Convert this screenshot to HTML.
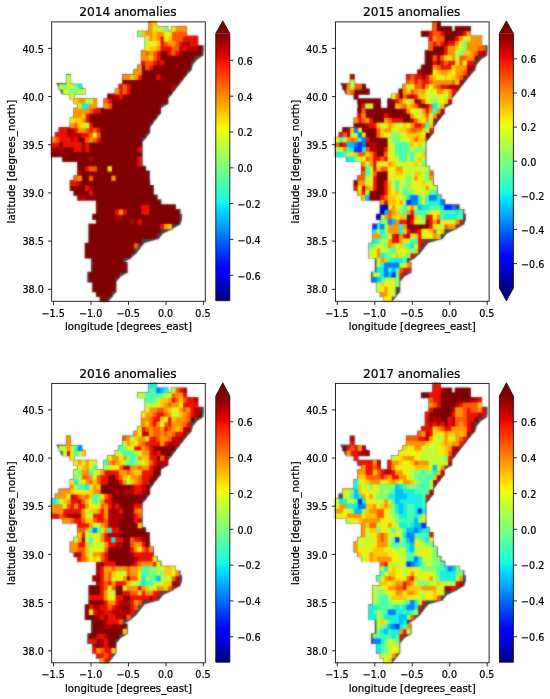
<!DOCTYPE html>
<html><head><meta charset="utf-8"><title>anomalies</title>
<style>
html,body{margin:0;padding:0;background:#fff}
svg{display:block}
text{font-family:"DejaVu Sans","Liberation Sans",sans-serif;fill:#000;stroke:#000;stroke-width:0.22px}
.t{font-size:12.2px}
.l{font-size:9.6px}
.a{font-size:10.2px}
</style></head>
<body>
<svg width="550" height="699" viewBox="0 0 550 699">
<defs>
<linearGradient id="jet" x1="0" y1="1" x2="0" y2="0">
<stop offset="0.000" stop-color="#000080"/><stop offset="0.110" stop-color="#0000ff"/><stop offset="0.125" stop-color="#0000ff"/><stop offset="0.340" stop-color="#00dbff"/><stop offset="0.350" stop-color="#00e5f7"/><stop offset="0.375" stop-color="#15ffe2"/><stop offset="0.640" stop-color="#efff08"/><stop offset="0.650" stop-color="#f7f600"/><stop offset="0.660" stop-color="#ffec00"/><stop offset="0.890" stop-color="#ff1300"/><stop offset="0.910" stop-color="#e80000"/><stop offset="1.000" stop-color="#800000"/>
</linearGradient>
<filter id="soft" x="-5%" y="-5%" width="110%" height="110%" color-interpolation-filters="sRGB"><feGaussianBlur in="SourceGraphic" stdDeviation="0.8" result="b"/><feComposite in="b" in2="SourceGraphic" operator="arithmetic" k1="0" k2="0.6" k3="0.4" k4="0"/></filter>
</defs>
<rect width="550" height="699" fill="#fff"/>
<g>
<g filter="url(#soft)">
<path fill="#41434b" d="M148.34,21.13h8.81v6.07h-8.81zM148.34,25.95h20.05v6.07h-20.05zM170.82,25.95h16.30v6.07h-16.30zM137.09,30.76h50.03v6.07h-50.03zM144.59,35.58h53.78v6.07h-53.78zM144.59,40.40h53.78v6.07h-53.78zM144.59,45.22h59.21v6.07h-59.21zM203.43,50.80L203.80,50.80L203.43,55.14zM140.84,50.03h62.58v6.07h-62.58zM196.49,55.62L203.43,55.62L196.49,59.96zM140.84,54.85h55.65v6.07h-55.65zM192.75,60.44L196.49,60.44L192.75,64.77zM140.84,59.67h51.90v6.07h-51.90zM191.62,65.26L192.75,65.26L191.62,69.59zM137.09,64.48h54.53v6.07h-54.53zM187.12,70.07L191.62,70.07L187.12,74.41zM133.35,69.30h53.78v6.07h-53.78zM183.38,74.89L187.12,74.89L183.38,79.23zM65.89,74.12h5.06v6.07h-5.06zM122.10,74.12h61.27v6.07h-61.27zM179.63,79.71L183.38,79.71L179.63,84.04zM65.89,78.94h5.06v6.07h-5.06zM122.10,78.94h57.53v6.07h-57.53zM175.88,84.52L179.63,84.52L175.88,88.86zM58.40,83.75h23.80v6.07h-23.80zM118.36,83.75h57.53v6.07h-57.53zM172.13,89.34L175.88,89.34L172.13,93.68zM62.14,88.57h23.80v6.07h-23.80zM114.61,88.57h57.53v6.07h-57.53zM168.39,94.16L172.13,94.16L168.39,98.49zM69.64,93.39h5.06v6.07h-5.06zM107.11,93.39h61.27v6.07h-61.27zM73.39,98.21h23.80v6.07h-23.80zM103.37,98.21h65.02v6.07h-65.02zM160.89,103.79L168.39,103.79L160.89,108.13zM77.13,103.02h20.05v6.07h-20.05zM103.37,103.02h57.53v6.07h-57.53zM73.39,107.84h87.51v6.07h-87.51zM157.14,113.43L160.89,113.43L157.14,117.76zM73.39,112.66h83.76v6.07h-83.76zM153.40,118.24L157.14,118.24L153.40,122.58zM69.64,117.47h83.76v6.07h-83.76zM150.21,123.06L153.40,123.06L150.21,127.40zM69.64,122.29h80.57v6.07h-80.57zM58.40,127.11h91.82v6.07h-91.82zM146.46,132.70L150.21,132.70L146.46,137.03zM54.65,131.93h91.82v6.07h-91.82zM142.72,137.51L146.46,137.51L142.72,141.85zM50.90,136.74h91.82v6.07h-91.82zM50.90,141.56h91.82v6.07h-91.82zM50.90,146.38h91.82v6.07h-91.82zM50.90,151.19h91.82v6.07h-91.82zM62.14,156.01h80.57v6.07h-80.57zM77.13,160.83h65.58v6.07h-65.58zM77.13,165.65h68.96v6.07h-68.96zM77.13,170.46h72.70v6.07h-72.70zM73.39,175.28h76.45v6.07h-76.45zM69.64,180.10h80.57v6.07h-80.57zM69.64,184.92h84.32v6.07h-84.32zM73.39,189.73h80.57v6.07h-80.57zM77.13,194.55h80.57v6.07h-80.57zM95.87,199.37h65.58v6.07h-65.58zM95.87,204.18h80.01v6.07h-80.01zM95.87,209.00h84.69v6.07h-84.69zM92.12,213.82h89.94v6.07h-89.94zM180.57,219.41L182.07,219.41L180.57,223.74zM95.87,218.64h84.69v6.07h-84.69zM173.07,224.22L180.57,224.22L173.07,228.56zM88.38,223.45h84.69v6.07h-84.69zM162.95,229.04L173.07,229.04L162.95,233.38zM88.38,228.27h74.58v6.07h-74.58zM159.20,233.86L162.95,233.86L159.20,238.19zM88.38,233.09h70.83v6.07h-70.83zM144.21,238.68L159.20,238.68L144.21,243.01zM88.38,237.91h55.84v6.07h-55.84zM140.47,243.49L144.21,243.49L140.47,247.83zM84.63,242.72h55.84v6.07h-55.84zM136.72,248.31L140.47,248.31L136.72,252.65zM84.63,247.54h52.09v6.07h-52.09zM131.47,253.13L136.72,253.13L131.47,257.46zM84.63,252.36h46.84v6.07h-46.84zM123.98,257.94L131.47,257.94L123.98,262.28zM91.00,257.17h32.98v6.07h-32.98zM91.00,261.99h36.73v6.07h-36.73zM91.00,266.81h36.73v6.07h-36.73zM120.23,272.40L127.73,272.40L120.23,276.73zM87.25,271.63h32.98v6.07h-32.98zM116.48,277.21L120.23,277.21L116.48,281.55zM87.25,276.44h29.23v6.07h-29.23zM92.12,281.26h24.36v6.07h-24.36zM92.12,286.08h24.36v6.07h-24.36zM112.74,291.67L116.48,291.67L112.74,296.00zM95.87,290.89h16.86v6.07h-16.86zM108.99,296.48L112.74,296.48L108.99,300.82zM99.62,295.71h9.37v6.07h-9.37zM56.15,83.08L66.64,83.32L71.14,83.56L80.13,84.28L84.63,90.30L79.76,93.92L73.95,94.88L73.76,99.22L70.01,99.22L70.01,94.88L61.39,93.92L59.89,89.34z"/>
<path fill="#800000" d="M197.55,45.74h4.25v5.32h-4.25zM160.08,50.55h8.00v5.32h-8.00zM182.56,50.55h19.24v5.32h-19.24zM160.08,55.37h34.23v5.32h-34.23zM163.83,60.19h26.73v5.32h-26.73zM141.34,65.01h4.25v5.32h-4.25zM152.58,65.01h37.98v5.32h-37.98zM141.34,69.82h45.47v5.32h-45.47zM141.34,74.64h15.49v5.32h-15.49zM160.08,74.64h22.99v5.32h-22.99zM122.60,79.46h56.71v5.32h-56.71zM130.10,84.27h41.72v5.32h-41.72zM130.10,89.09h41.72v5.32h-41.72zM107.61,93.91h4.25v5.32h-4.25zM122.60,93.91h45.47v5.32h-45.47zM111.36,98.73h56.71v5.32h-56.71zM111.36,103.54h49.22v5.32h-49.22zM100.12,108.36h60.46v5.32h-60.46zM88.88,113.18h67.96v5.32h-67.96zM88.88,117.99h64.21v5.32h-64.21zM92.62,122.81h56.71v5.32h-56.71zM100.12,127.63h49.22v5.32h-49.22zM100.12,132.45h45.47v5.32h-45.47zM77.63,137.26h8.00v5.32h-8.00zM100.12,137.26h41.72v5.32h-41.72zM58.90,142.08h4.25v5.32h-4.25zM81.38,142.08h4.25v5.32h-4.25zM88.88,142.08h52.97v5.32h-52.97zM55.15,146.90h4.25v5.32h-4.25zM62.64,146.90h11.74v5.32h-11.74zM81.38,146.90h4.25v5.32h-4.25zM88.88,146.90h49.22v5.32h-49.22zM51.40,151.72h90.44v5.32h-90.44zM62.64,156.53h26.73v5.32h-26.73zM92.62,156.53h45.47v5.32h-45.47zM77.63,161.35h60.46v5.32h-60.46zM77.63,166.17h8.00v5.32h-8.00zM96.37,166.17h11.74v5.32h-11.74zM111.36,166.17h34.23v5.32h-34.23zM81.38,170.98h67.96v5.32h-67.96zM81.38,175.80h8.00v5.32h-8.00zM92.62,175.80h19.24v5.32h-19.24zM115.11,175.80h34.23v5.32h-34.23zM81.38,180.62h67.96v5.32h-67.96zM70.14,185.44h15.49v5.32h-15.49zM92.62,185.44h60.46v5.32h-60.46zM73.89,190.25h15.49v5.32h-15.49zM92.62,190.25h60.46v5.32h-60.46zM85.13,195.07h71.70v5.32h-71.70zM96.37,199.89h64.21v5.32h-64.21zM96.37,204.71h45.47v5.32h-45.47zM148.84,204.71h26.73v5.32h-26.73zM96.37,209.52h19.24v5.32h-19.24zM126.35,209.52h15.49v5.32h-15.49zM148.84,209.52h30.48v5.32h-30.48zM92.62,214.34h22.99v5.32h-22.99zM122.60,214.34h56.71v5.32h-56.71zM96.37,219.16h34.23v5.32h-34.23zM133.85,219.16h4.25v5.32h-4.25zM141.34,219.16h37.98v5.32h-37.98zM88.88,223.97h71.70v5.32h-71.70zM88.88,228.79h71.70v5.32h-71.70zM88.88,233.61h67.96v5.32h-67.96zM88.88,238.43h52.97v5.32h-52.97zM85.13,243.24h49.22v5.32h-49.22zM85.13,248.06h49.22v5.32h-49.22zM85.13,252.88h45.47v5.32h-45.47zM92.62,257.69h30.48v5.32h-30.48zM92.62,262.51h34.23v5.32h-34.23zM92.62,267.33h34.23v5.32h-34.23zM88.88,272.15h30.48v5.32h-30.48zM88.88,276.96h26.73v5.32h-26.73zM92.62,281.78h22.99v5.32h-22.99zM92.62,286.60h22.99v5.32h-22.99zM96.37,291.42h15.49v5.32h-15.49zM100.12,296.23h8.00v5.32h-8.00z"/>
<path fill="#b40000" d="M182.56,40.92h8.00v5.32h-8.00zM178.82,45.74h4.25v5.32h-4.25zM186.31,45.74h11.74v5.32h-11.74zM178.82,50.55h4.25v5.32h-4.25zM156.33,60.19h4.25v5.32h-4.25zM171.32,84.27h4.25v5.32h-4.25zM111.36,93.91h8.00v5.32h-8.00zM66.39,127.63h8.00v5.32h-8.00zM66.39,132.45h15.49v5.32h-15.49zM70.14,137.26h4.25v5.32h-4.25zM51.40,146.90h4.25v5.32h-4.25zM58.90,146.90h4.25v5.32h-4.25zM88.88,156.53h4.25v5.32h-4.25zM77.63,170.98h4.25v5.32h-4.25zM77.63,180.62h4.25v5.32h-4.25zM88.88,185.44h4.25v5.32h-4.25zM77.63,195.07h8.00v5.32h-8.00zM115.11,214.34h8.00v5.32h-8.00zM130.10,219.16h4.25v5.32h-4.25z"/>
<path fill="#ec1000" d="M160.08,36.10h4.25v5.32h-4.25zM182.56,36.10h15.49v5.32h-15.49zM160.08,40.92h4.25v5.32h-4.25zM178.82,40.92h4.25v5.32h-4.25zM190.06,40.92h8.00v5.32h-8.00zM160.08,45.74h11.74v5.32h-11.74zM182.56,45.74h4.25v5.32h-4.25zM156.33,50.55h4.25v5.32h-4.25zM167.57,50.55h4.25v5.32h-4.25zM175.07,50.55h4.25v5.32h-4.25zM156.33,55.37h4.25v5.32h-4.25zM141.34,60.19h4.25v5.32h-4.25zM152.58,60.19h4.25v5.32h-4.25zM160.08,60.19h4.25v5.32h-4.25zM148.84,65.01h4.25v5.32h-4.25zM137.59,74.64h4.25v5.32h-4.25zM156.33,74.64h4.25v5.32h-4.25zM118.86,84.27h4.25v5.32h-4.25zM126.35,84.27h4.25v5.32h-4.25zM118.86,89.09h4.25v5.32h-4.25zM126.35,89.09h4.25v5.32h-4.25zM118.86,93.91h4.25v5.32h-4.25zM107.61,98.73h4.25v5.32h-4.25zM92.62,108.36h8.00v5.32h-8.00zM85.13,113.18h4.25v5.32h-4.25zM85.13,117.99h4.25v5.32h-4.25zM88.88,122.81h4.25v5.32h-4.25zM58.90,127.63h8.00v5.32h-8.00zM73.89,127.63h4.25v5.32h-4.25zM88.88,127.63h4.25v5.32h-4.25zM96.37,127.63h4.25v5.32h-4.25zM55.15,132.45h11.74v5.32h-11.74zM81.38,132.45h8.00v5.32h-8.00zM58.90,137.26h11.74v5.32h-11.74zM73.89,137.26h4.25v5.32h-4.25zM96.37,137.26h4.25v5.32h-4.25zM51.40,142.08h8.00v5.32h-8.00zM62.64,142.08h19.24v5.32h-19.24zM85.13,142.08h4.25v5.32h-4.25zM73.89,146.90h8.00v5.32h-8.00zM85.13,146.90h4.25v5.32h-4.25zM137.59,146.90h4.25v5.32h-4.25zM137.59,156.53h4.25v5.32h-4.25zM137.59,161.35h4.25v5.32h-4.25zM85.13,166.17h4.25v5.32h-4.25zM70.14,180.62h8.00v5.32h-8.00zM85.13,185.44h4.25v5.32h-4.25zM88.88,190.25h4.25v5.32h-4.25zM141.34,204.71h8.00v5.32h-8.00zM115.11,209.52h4.25v5.32h-4.25zM122.60,209.52h4.25v5.32h-4.25zM141.34,209.52h8.00v5.32h-8.00zM137.59,219.16h4.25v5.32h-4.25zM160.08,223.97h4.25v5.32h-4.25z"/>
<path fill="#ff5900" d="M171.32,31.28h15.49v5.32h-15.49zM171.32,36.10h11.74v5.32h-11.74zM163.83,40.92h4.25v5.32h-4.25zM175.07,40.92h4.25v5.32h-4.25zM171.32,45.74h8.00v5.32h-8.00zM145.09,50.55h4.25v5.32h-4.25zM152.58,50.55h4.25v5.32h-4.25zM171.32,50.55h4.25v5.32h-4.25zM152.58,55.37h4.25v5.32h-4.25zM145.09,60.19h8.00v5.32h-8.00zM145.09,65.01h4.25v5.32h-4.25zM122.60,84.27h4.25v5.32h-4.25zM122.60,89.09h4.25v5.32h-4.25zM103.87,98.73h4.25v5.32h-4.25zM107.61,103.54h4.25v5.32h-4.25zM88.88,108.36h4.25v5.32h-4.25zM73.89,122.81h4.25v5.32h-4.25zM85.13,127.63h4.25v5.32h-4.25zM92.62,127.63h4.25v5.32h-4.25zM88.88,132.45h4.25v5.32h-4.25zM96.37,132.45h4.25v5.32h-4.25zM55.15,137.26h4.25v5.32h-4.25zM85.13,137.26h4.25v5.32h-4.25zM92.62,137.26h4.25v5.32h-4.25zM88.88,166.17h8.00v5.32h-8.00zM73.89,175.80h4.25v5.32h-4.25zM88.88,175.80h4.25v5.32h-4.25zM133.85,243.24h4.25v5.32h-4.25z"/>
<path fill="#ff9400" d="M148.84,21.65h4.25v5.32h-4.25zM148.84,26.47h4.25v5.32h-4.25zM175.07,26.47h11.74v5.32h-11.74zM145.09,31.28h8.00v5.32h-8.00zM156.33,31.28h8.00v5.32h-8.00zM148.84,36.10h4.25v5.32h-4.25zM156.33,36.10h4.25v5.32h-4.25zM167.57,40.92h8.00v5.32h-8.00zM156.33,45.74h4.25v5.32h-4.25zM141.34,50.55h4.25v5.32h-4.25zM148.84,50.55h4.25v5.32h-4.25zM141.34,55.37h8.00v5.32h-8.00zM137.59,65.01h4.25v5.32h-4.25zM133.85,69.82h8.00v5.32h-8.00zM122.60,74.64h8.00v5.32h-8.00zM133.85,74.64h4.25v5.32h-4.25zM115.11,89.09h4.25v5.32h-4.25zM77.63,98.73h8.00v5.32h-8.00zM92.62,98.73h4.25v5.32h-4.25zM88.88,103.54h8.00v5.32h-8.00zM103.87,103.54h4.25v5.32h-4.25zM73.89,108.36h15.49v5.32h-15.49zM73.89,113.18h8.00v5.32h-8.00zM81.38,117.99h4.25v5.32h-4.25zM70.14,122.81h4.25v5.32h-4.25zM77.63,127.63h8.00v5.32h-8.00zM51.40,137.26h4.25v5.32h-4.25zM88.88,137.26h4.25v5.32h-4.25zM77.63,175.80h4.25v5.32h-4.25zM111.36,175.80h4.25v5.32h-4.25zM118.86,209.52h4.25v5.32h-4.25zM163.83,223.97h4.25v5.32h-4.25z"/>
<path fill="#ffc800" d="M152.58,21.65h4.25v5.32h-4.25zM141.34,31.28h4.25v5.32h-4.25zM152.58,31.28h4.25v5.32h-4.25zM152.58,36.10h4.25v5.32h-4.25zM167.57,36.10h4.25v5.32h-4.25zM156.33,40.92h4.25v5.32h-4.25zM148.84,45.74h8.00v5.32h-8.00zM148.84,55.37h4.25v5.32h-4.25zM130.10,74.64h4.25v5.32h-4.25zM73.89,98.73h4.25v5.32h-4.25zM81.38,113.18h4.25v5.32h-4.25zM73.89,117.99h8.00v5.32h-8.00zM77.63,122.81h4.25v5.32h-4.25zM167.57,223.97h4.25v5.32h-4.25z"/>
<path fill="#f0f010" d="M152.58,26.47h4.25v5.32h-4.25zM160.08,26.47h4.25v5.32h-4.25zM171.32,26.47h4.25v5.32h-4.25zM163.83,31.28h8.00v5.32h-8.00zM163.83,36.10h4.25v5.32h-4.25zM148.84,40.92h8.00v5.32h-8.00zM145.09,45.74h4.25v5.32h-4.25zM70.14,93.91h4.25v5.32h-4.25zM77.63,103.54h4.25v5.32h-4.25zM70.14,117.99h4.25v5.32h-4.25zM81.38,122.81h4.25v5.32h-4.25zM92.62,132.45h4.25v5.32h-4.25zM107.61,166.17h4.25v5.32h-4.25z"/>
<path fill="#c0ff38" d="M156.33,26.47h4.25v5.32h-4.25zM145.09,36.10h4.25v5.32h-4.25zM145.09,40.92h4.25v5.32h-4.25zM66.39,74.64h4.25v5.32h-4.25zM66.39,79.46h4.25v5.32h-4.25zM58.90,84.27h4.25v5.32h-4.25zM66.39,84.27h8.00v5.32h-8.00zM62.64,89.09h8.00v5.32h-8.00zM77.63,89.09h8.00v5.32h-8.00zM85.13,98.73h8.00v5.32h-8.00zM85.13,122.81h4.25v5.32h-4.25z"/>
<path fill="#80ff78" d="M163.83,26.47h4.25v5.32h-4.25zM137.59,31.28h4.25v5.32h-4.25zM62.64,84.27h4.25v5.32h-4.25zM73.89,84.27h4.25v5.32h-4.25zM70.14,89.09h8.00v5.32h-8.00z"/>
<path fill="#18f0e0" d="M77.63,84.27h4.25v5.32h-4.25zM81.38,103.54h8.00v5.32h-8.00z"/>
</g>
<rect x="51.65" y="21.9" width="153.65" height="279.4" fill="none" stroke="#111" stroke-width="0.9"/>
<line x1="53.5" y1="301.29999999999995" x2="53.5" y2="304.9" stroke="#111" stroke-width="0.9"/><text class="l" x="53.1" y="316.5" text-anchor="middle">−1.5</text>
<line x1="91.0" y1="301.29999999999995" x2="91.0" y2="304.9" stroke="#111" stroke-width="0.9"/><text class="l" x="90.6" y="316.5" text-anchor="middle">−1.0</text>
<line x1="128.5" y1="301.29999999999995" x2="128.5" y2="304.9" stroke="#111" stroke-width="0.9"/><text class="l" x="128.1" y="316.5" text-anchor="middle">−0.5</text>
<line x1="166.0" y1="301.29999999999995" x2="166.0" y2="304.9" stroke="#111" stroke-width="0.9"/><text class="l" x="165.6" y="316.5" text-anchor="middle">0.0</text>
<line x1="203.4" y1="301.29999999999995" x2="203.4" y2="304.9" stroke="#111" stroke-width="0.9"/><text class="l" x="203.0" y="316.5" text-anchor="middle">0.5</text>
<line x1="48.05" y1="289.3" x2="51.65" y2="289.3" stroke="#111" stroke-width="0.9"/><text class="l" x="43.9" y="293.4" text-anchor="end">38.0</text>
<line x1="48.05" y1="241.1" x2="51.65" y2="241.1" stroke="#111" stroke-width="0.9"/><text class="l" x="43.9" y="245.2" text-anchor="end">38.5</text>
<line x1="48.05" y1="192.9" x2="51.65" y2="192.9" stroke="#111" stroke-width="0.9"/><text class="l" x="43.9" y="197.0" text-anchor="end">39.0</text>
<line x1="48.05" y1="144.7" x2="51.65" y2="144.7" stroke="#111" stroke-width="0.9"/><text class="l" x="43.9" y="148.8" text-anchor="end">39.5</text>
<line x1="48.05" y1="96.6" x2="51.65" y2="96.6" stroke="#111" stroke-width="0.9"/><text class="l" x="43.9" y="100.7" text-anchor="end">40.0</text>
<line x1="48.05" y1="48.4" x2="51.65" y2="48.4" stroke="#111" stroke-width="0.9"/><text class="l" x="43.9" y="52.5" text-anchor="end">40.5</text>
<text class="t" x="127.9" y="16.0" text-anchor="middle">2014 anomalies</text>
<text class="a" x="128.5" y="330.3" text-anchor="middle">longitude [degrees_east]</text>
<text class="a" transform="translate(15.0,161.6) rotate(-90)" text-anchor="middle">latitude [degrees_north]</text>
<rect x="215.8" y="33.4" width="14.0" height="267.3" fill="url(#jet)"/><path d="M215.8,33.6 L222.8,20.9 L229.8,33.6 Z" fill="#800000"/><path d="M215.8,33.4 L222.8,20.9 L229.8,33.4 L229.8,300.7 L215.8,300.7 Z" fill="none" stroke="#111" stroke-width="0.9" stroke-linejoin="miter"/>
<line x1="229.8" y1="60.3" x2="233.4" y2="60.3" stroke="#111" stroke-width="0.9"/><text class="l" x="237.4" y="64.6">0.6</text>
<line x1="229.8" y1="96.2" x2="233.4" y2="96.2" stroke="#111" stroke-width="0.9"/><text class="l" x="237.4" y="100.5">0.4</text>
<line x1="229.8" y1="132.0" x2="233.4" y2="132.0" stroke="#111" stroke-width="0.9"/><text class="l" x="237.4" y="136.3">0.2</text>
<line x1="229.8" y1="167.8" x2="233.4" y2="167.8" stroke="#111" stroke-width="0.9"/><text class="l" x="237.4" y="172.1">0.0</text>
<line x1="229.8" y1="203.6" x2="233.4" y2="203.6" stroke="#111" stroke-width="0.9"/><text class="l" x="237.4" y="207.9">−0.2</text>
<line x1="229.8" y1="239.4" x2="233.4" y2="239.4" stroke="#111" stroke-width="0.9"/><text class="l" x="237.4" y="243.7">−0.4</text>
<line x1="229.8" y1="275.3" x2="233.4" y2="275.3" stroke="#111" stroke-width="0.9"/><text class="l" x="237.4" y="279.6">−0.6</text>
</g>
<g>
<g filter="url(#soft)">
<path fill="#41434b" d="M432.14,21.13h8.81v6.07h-8.81zM432.14,25.95h20.05v6.07h-20.05zM454.62,25.95h16.30v6.07h-16.30zM420.89,30.76h50.03v6.07h-50.03zM428.39,35.58h53.78v6.07h-53.78zM428.39,40.40h53.78v6.07h-53.78zM428.39,45.22h59.21v6.07h-59.21zM487.23,50.80L487.60,50.80L487.23,55.14zM424.64,50.03h62.58v6.07h-62.58zM480.29,55.62L487.23,55.62L480.29,59.96zM424.64,54.85h55.65v6.07h-55.65zM476.55,60.44L480.29,60.44L476.55,64.77zM424.64,59.67h51.90v6.07h-51.90zM475.42,65.26L476.55,65.26L475.42,69.59zM420.89,64.48h54.53v6.07h-54.53zM470.92,70.07L475.42,70.07L470.92,74.41zM417.15,69.30h53.78v6.07h-53.78zM467.18,74.89L470.92,74.89L467.18,79.23zM349.69,74.12h5.06v6.07h-5.06zM405.90,74.12h61.27v6.07h-61.27zM463.43,79.71L467.18,79.71L463.43,84.04zM349.69,78.94h5.06v6.07h-5.06zM405.90,78.94h57.53v6.07h-57.53zM459.68,84.52L463.43,84.52L459.68,88.86zM342.20,83.75h23.80v6.07h-23.80zM402.16,83.75h57.53v6.07h-57.53zM455.93,89.34L459.68,89.34L455.93,93.68zM345.94,88.57h23.80v6.07h-23.80zM398.41,88.57h57.53v6.07h-57.53zM452.19,94.16L455.93,94.16L452.19,98.49zM353.44,93.39h5.06v6.07h-5.06zM390.91,93.39h61.27v6.07h-61.27zM357.19,98.21h23.80v6.07h-23.80zM387.17,98.21h65.02v6.07h-65.02zM444.69,103.79L452.19,103.79L444.69,108.13zM360.93,103.02h20.05v6.07h-20.05zM387.17,103.02h57.53v6.07h-57.53zM357.19,107.84h87.51v6.07h-87.51zM440.94,113.43L444.69,113.43L440.94,117.76zM357.19,112.66h83.76v6.07h-83.76zM437.20,118.24L440.94,118.24L437.20,122.58zM353.44,117.47h83.76v6.07h-83.76zM434.01,123.06L437.20,123.06L434.01,127.40zM353.44,122.29h80.57v6.07h-80.57zM342.20,127.11h91.82v6.07h-91.82zM430.26,132.70L434.01,132.70L430.26,137.03zM338.45,131.93h91.82v6.07h-91.82zM426.52,137.51L430.26,137.51L426.52,141.85zM334.70,136.74h91.82v6.07h-91.82zM334.70,141.56h91.82v6.07h-91.82zM334.70,146.38h91.82v6.07h-91.82zM334.70,151.19h91.82v6.07h-91.82zM345.94,156.01h80.57v6.07h-80.57zM360.93,160.83h65.58v6.07h-65.58zM360.93,165.65h68.96v6.07h-68.96zM360.93,170.46h72.70v6.07h-72.70zM357.19,175.28h76.45v6.07h-76.45zM353.44,180.10h80.57v6.07h-80.57zM353.44,184.92h84.32v6.07h-84.32zM357.19,189.73h80.57v6.07h-80.57zM360.93,194.55h80.57v6.07h-80.57zM379.67,199.37h65.58v6.07h-65.58zM379.67,204.18h80.01v6.07h-80.01zM379.67,209.00h84.69v6.07h-84.69zM375.92,213.82h89.94v6.07h-89.94zM464.37,219.41L465.87,219.41L464.37,223.74zM379.67,218.64h84.69v6.07h-84.69zM456.87,224.22L464.37,224.22L456.87,228.56zM372.18,223.45h84.69v6.07h-84.69zM446.75,229.04L456.87,229.04L446.75,233.38zM372.18,228.27h74.58v6.07h-74.58zM443.00,233.86L446.75,233.86L443.00,238.19zM372.18,233.09h70.83v6.07h-70.83zM428.01,238.68L443.00,238.68L428.01,243.01zM372.18,237.91h55.84v6.07h-55.84zM424.27,243.49L428.01,243.49L424.27,247.83zM368.43,242.72h55.84v6.07h-55.84zM420.52,248.31L424.27,248.31L420.52,252.65zM368.43,247.54h52.09v6.07h-52.09zM415.27,253.13L420.52,253.13L415.27,257.46zM368.43,252.36h46.84v6.07h-46.84zM407.78,257.94L415.27,257.94L407.78,262.28zM374.80,257.17h32.98v6.07h-32.98zM374.80,261.99h36.73v6.07h-36.73zM374.80,266.81h36.73v6.07h-36.73zM404.03,272.40L411.53,272.40L404.03,276.73zM371.05,271.63h32.98v6.07h-32.98zM400.28,277.21L404.03,277.21L400.28,281.55zM371.05,276.44h29.23v6.07h-29.23zM375.92,281.26h24.36v6.07h-24.36zM375.92,286.08h24.36v6.07h-24.36zM396.54,291.67L400.28,291.67L396.54,296.00zM379.67,290.89h16.86v6.07h-16.86zM392.79,296.48L396.54,296.48L392.79,300.82zM383.42,295.71h9.37v6.07h-9.37zM339.95,83.08L350.44,83.32L354.94,83.56L363.93,84.28L368.43,90.30L363.56,93.92L357.75,94.88L357.56,99.22L353.81,99.22L353.81,94.88L345.19,93.92L343.69,89.34z"/>
<path fill="#800000" d="M436.38,21.65h4.25v5.32h-4.25zM436.38,26.47h15.49v5.32h-15.49zM455.12,26.47h15.49v5.32h-15.49zM421.39,31.28h8.00v5.32h-8.00zM443.88,31.28h19.24v5.32h-19.24zM443.88,36.10h11.74v5.32h-11.74zM443.88,40.92h4.25v5.32h-4.25zM432.64,45.74h11.74v5.32h-11.74zM425.14,50.55h19.24v5.32h-19.24zM425.14,55.37h8.00v5.32h-8.00zM425.14,60.19h8.00v5.32h-8.00zM436.38,60.19h4.25v5.32h-4.25zM421.39,65.01h11.74v5.32h-11.74zM421.39,69.82h11.74v5.32h-11.74zM421.39,74.64h4.25v5.32h-4.25zM342.70,84.27h4.25v5.32h-4.25zM361.43,84.27h4.25v5.32h-4.25zM353.94,89.09h15.49v5.32h-15.49zM398.91,89.09h4.25v5.32h-4.25zM353.94,93.91h4.25v5.32h-4.25zM398.91,93.91h4.25v5.32h-4.25zM357.69,98.73h22.99v5.32h-22.99zM387.67,98.73h8.00v5.32h-8.00zM413.90,98.73h4.25v5.32h-4.25zM357.69,103.54h4.25v5.32h-4.25zM372.68,103.54h8.00v5.32h-8.00zM387.67,103.54h8.00v5.32h-8.00zM421.39,103.54h4.25v5.32h-4.25zM357.69,108.36h4.25v5.32h-4.25zM365.18,108.36h37.98v5.32h-37.98zM365.18,113.18h19.24v5.32h-19.24zM387.67,113.18h22.99v5.32h-22.99zM372.68,117.99h11.74v5.32h-11.74zM402.66,117.99h8.00v5.32h-8.00zM353.94,122.81h11.74v5.32h-11.74zM342.70,127.63h4.25v5.32h-4.25zM361.43,127.63h15.49v5.32h-15.49zM365.18,132.45h11.74v5.32h-11.74zM425.14,132.45h4.25v5.32h-4.25zM368.93,137.26h19.24v5.32h-19.24zM365.18,142.08h4.25v5.32h-4.25zM376.42,142.08h11.74v5.32h-11.74zM376.42,146.90h8.00v5.32h-8.00zM376.42,151.72h8.00v5.32h-8.00zM376.42,170.98h11.74v5.32h-11.74zM376.42,175.80h11.74v5.32h-11.74zM353.94,180.62h4.25v5.32h-4.25zM376.42,180.62h8.00v5.32h-8.00zM376.42,185.44h8.00v5.32h-8.00zM368.93,190.25h15.49v5.32h-15.49zM368.93,195.07h11.74v5.32h-11.74zM406.40,214.34h4.25v5.32h-4.25zM406.40,219.16h4.25v5.32h-4.25zM425.14,219.16h4.25v5.32h-4.25zM406.40,223.97h22.99v5.32h-22.99zM410.15,228.79h4.25v5.32h-4.25z"/>
<path fill="#b40000" d="M477.61,50.55h8.00v5.32h-8.00zM436.38,55.37h4.25v5.32h-4.25zM473.86,55.37h4.25v5.32h-4.25zM466.36,65.01h8.00v5.32h-8.00zM417.65,69.82h4.25v5.32h-4.25zM466.36,69.82h4.25v5.32h-4.25zM350.19,74.64h4.25v5.32h-4.25zM462.62,74.64h4.25v5.32h-4.25zM458.87,79.46h4.25v5.32h-4.25zM447.63,84.27h11.74v5.32h-11.74zM406.40,93.91h8.00v5.32h-8.00zM417.65,98.73h4.25v5.32h-4.25zM447.63,98.73h4.25v5.32h-4.25zM417.65,103.54h4.25v5.32h-4.25zM425.14,103.54h4.25v5.32h-4.25zM402.66,108.36h4.25v5.32h-4.25zM440.13,108.36h4.25v5.32h-4.25zM436.38,113.18h4.25v5.32h-4.25zM410.15,117.99h4.25v5.32h-4.25zM432.64,117.99h4.25v5.32h-4.25zM365.18,122.81h4.25v5.32h-4.25zM346.44,127.63h4.25v5.32h-4.25zM346.44,132.45h4.25v5.32h-4.25zM338.95,142.08h4.25v5.32h-4.25zM368.93,142.08h8.00v5.32h-8.00zM368.93,146.90h8.00v5.32h-8.00zM361.43,185.44h4.25v5.32h-4.25zM383.92,199.89h4.25v5.32h-4.25zM410.15,214.34h4.25v5.32h-4.25zM413.90,228.79h4.25v5.32h-4.25zM395.16,233.61h4.25v5.32h-4.25zM406.40,233.61h4.25v5.32h-4.25z"/>
<path fill="#ec1000" d="M428.89,31.28h4.25v5.32h-4.25zM440.13,31.28h4.25v5.32h-4.25zM462.62,31.28h4.25v5.32h-4.25zM428.89,36.10h4.25v5.32h-4.25zM455.12,36.10h4.25v5.32h-4.25zM432.64,40.92h4.25v5.32h-4.25zM440.13,40.92h4.25v5.32h-4.25zM447.63,40.92h8.00v5.32h-8.00zM443.88,45.74h4.25v5.32h-4.25zM443.88,50.55h4.25v5.32h-4.25zM432.64,60.19h4.25v5.32h-4.25zM440.13,60.19h4.25v5.32h-4.25zM447.63,60.19h8.00v5.32h-8.00zM466.36,60.19h8.00v5.32h-8.00zM440.13,65.01h11.74v5.32h-11.74zM406.40,74.64h4.25v5.32h-4.25zM413.90,74.64h8.00v5.32h-8.00zM425.14,74.64h4.25v5.32h-4.25zM413.90,79.46h4.25v5.32h-4.25zM421.39,79.46h8.00v5.32h-8.00zM421.39,84.27h4.25v5.32h-4.25zM440.13,84.27h8.00v5.32h-8.00zM451.37,89.09h4.25v5.32h-4.25zM413.90,93.91h4.25v5.32h-4.25zM395.16,98.73h4.25v5.32h-4.25zM361.43,103.54h4.25v5.32h-4.25zM425.14,108.36h4.25v5.32h-4.25zM357.69,113.18h4.25v5.32h-4.25zM383.92,113.18h4.25v5.32h-4.25zM357.69,117.99h4.25v5.32h-4.25zM368.93,117.99h4.25v5.32h-4.25zM391.41,117.99h11.74v5.32h-11.74zM368.93,122.81h8.00v5.32h-8.00zM413.90,122.81h8.00v5.32h-8.00zM428.89,127.63h4.25v5.32h-4.25zM338.95,132.45h4.25v5.32h-4.25zM365.18,137.26h4.25v5.32h-4.25zM342.70,142.08h4.25v5.32h-4.25zM383.92,146.90h4.25v5.32h-4.25zM372.68,151.72h4.25v5.32h-4.25zM372.68,156.53h8.00v5.32h-8.00zM383.92,156.53h4.25v5.32h-4.25zM372.68,161.35h4.25v5.32h-4.25zM361.43,166.17h4.25v5.32h-4.25zM372.68,166.17h4.25v5.32h-4.25zM372.68,175.80h4.25v5.32h-4.25zM372.68,180.62h4.25v5.32h-4.25zM383.92,180.62h4.25v5.32h-4.25zM353.94,185.44h4.25v5.32h-4.25zM372.68,185.44h4.25v5.32h-4.25zM383.92,185.44h4.25v5.32h-4.25zM361.43,190.25h4.25v5.32h-4.25zM383.92,190.25h4.25v5.32h-4.25zM380.17,195.07h4.25v5.32h-4.25zM410.15,209.52h4.25v5.32h-4.25zM425.14,214.34h8.00v5.32h-8.00zM398.91,219.16h8.00v5.32h-8.00zM410.15,219.16h4.25v5.32h-4.25zM428.89,219.16h4.25v5.32h-4.25zM436.38,219.16h4.25v5.32h-4.25zM458.87,219.16h4.25v5.32h-4.25zM428.89,223.97h4.25v5.32h-4.25zM406.40,228.79h4.25v5.32h-4.25zM417.65,228.79h4.25v5.32h-4.25zM391.41,233.61h4.25v5.32h-4.25zM402.66,233.61h4.25v5.32h-4.25zM417.65,233.61h4.25v5.32h-4.25zM391.41,238.43h8.00v5.32h-8.00zM417.65,238.43h8.00v5.32h-8.00zM417.65,243.24h4.25v5.32h-4.25zM410.15,252.88h4.25v5.32h-4.25zM402.66,267.33h8.00v5.32h-8.00zM398.91,272.15h4.25v5.32h-4.25z"/>
<path fill="#ff5900" d="M432.64,21.65h4.25v5.32h-4.25zM432.64,26.47h4.25v5.32h-4.25zM432.64,31.28h8.00v5.32h-8.00zM436.38,36.10h8.00v5.32h-8.00zM428.89,40.92h4.25v5.32h-4.25zM436.38,40.92h4.25v5.32h-4.25zM428.89,45.74h4.25v5.32h-4.25zM477.61,45.74h8.00v5.32h-8.00zM473.86,50.55h4.25v5.32h-4.25zM432.64,55.37h4.25v5.32h-4.25zM440.13,55.37h4.25v5.32h-4.25zM458.87,55.37h8.00v5.32h-8.00zM443.88,60.19h4.25v5.32h-4.25zM458.87,60.19h4.25v5.32h-4.25zM436.38,65.01h4.25v5.32h-4.25zM462.62,69.82h4.25v5.32h-4.25zM410.15,74.64h4.25v5.32h-4.25zM458.87,74.64h4.25v5.32h-4.25zM406.40,79.46h4.25v5.32h-4.25zM417.65,79.46h4.25v5.32h-4.25zM428.89,79.46h4.25v5.32h-4.25zM451.37,79.46h4.25v5.32h-4.25zM353.94,84.27h8.00v5.32h-8.00zM413.90,84.27h8.00v5.32h-8.00zM436.38,84.27h4.25v5.32h-4.25zM350.19,89.09h4.25v5.32h-4.25zM410.15,89.09h4.25v5.32h-4.25zM395.16,93.91h4.25v5.32h-4.25zM402.66,93.91h4.25v5.32h-4.25zM398.91,98.73h4.25v5.32h-4.25zM421.39,98.73h4.25v5.32h-4.25zM402.66,103.54h4.25v5.32h-4.25zM413.90,103.54h4.25v5.32h-4.25zM428.89,103.54h4.25v5.32h-4.25zM361.43,108.36h4.25v5.32h-4.25zM425.14,113.18h4.25v5.32h-4.25zM361.43,117.99h4.25v5.32h-4.25zM387.67,117.99h4.25v5.32h-4.25zM413.90,117.99h4.25v5.32h-4.25zM421.39,122.81h4.25v5.32h-4.25zM376.42,127.63h4.25v5.32h-4.25zM410.15,127.63h8.00v5.32h-8.00zM342.70,132.45h4.25v5.32h-4.25zM376.42,132.45h4.25v5.32h-4.25zM350.19,137.26h4.25v5.32h-4.25zM413.90,137.26h4.25v5.32h-4.25zM335.20,142.08h4.25v5.32h-4.25zM365.18,146.90h4.25v5.32h-4.25zM357.69,151.72h8.00v5.32h-8.00zM383.92,151.72h4.25v5.32h-4.25zM365.18,156.53h4.25v5.32h-4.25zM380.17,156.53h4.25v5.32h-4.25zM380.17,166.17h8.00v5.32h-8.00zM361.43,170.98h4.25v5.32h-4.25zM372.68,170.98h4.25v5.32h-4.25zM428.89,170.98h4.25v5.32h-4.25zM357.69,175.80h8.00v5.32h-8.00zM383.92,195.07h4.25v5.32h-4.25zM387.67,209.52h4.25v5.32h-4.25zM387.67,214.34h4.25v5.32h-4.25zM443.88,223.97h4.25v5.32h-4.25zM432.64,228.79h4.25v5.32h-4.25zM398.91,267.33h4.25v5.32h-4.25z"/>
<path fill="#ff9400" d="M466.36,31.28h4.25v5.32h-4.25zM432.64,36.10h4.25v5.32h-4.25zM458.87,36.10h4.25v5.32h-4.25zM470.11,36.10h11.74v5.32h-11.74zM455.12,40.92h4.25v5.32h-4.25zM466.36,40.92h15.49v5.32h-15.49zM447.63,45.74h8.00v5.32h-8.00zM466.36,45.74h11.74v5.32h-11.74zM447.63,50.55h8.00v5.32h-8.00zM470.11,50.55h4.25v5.32h-4.25zM451.37,55.37h4.25v5.32h-4.25zM466.36,55.37h8.00v5.32h-8.00zM432.64,65.01h4.25v5.32h-4.25zM455.12,65.01h11.74v5.32h-11.74zM440.13,69.82h8.00v5.32h-8.00zM455.12,69.82h8.00v5.32h-8.00zM428.89,74.64h4.25v5.32h-4.25zM455.12,74.64h4.25v5.32h-4.25zM410.15,79.46h4.25v5.32h-4.25zM432.64,79.46h19.24v5.32h-19.24zM346.44,84.27h4.25v5.32h-4.25zM402.66,84.27h4.25v5.32h-4.25zM425.14,84.27h4.25v5.32h-4.25zM432.64,84.27h4.25v5.32h-4.25zM346.44,89.09h4.25v5.32h-4.25zM402.66,89.09h4.25v5.32h-4.25zM413.90,89.09h4.25v5.32h-4.25zM421.39,89.09h4.25v5.32h-4.25zM436.38,89.09h8.00v5.32h-8.00zM447.63,89.09h4.25v5.32h-4.25zM447.63,93.91h4.25v5.32h-4.25zM398.91,103.54h4.25v5.32h-4.25zM410.15,103.54h4.25v5.32h-4.25zM406.40,108.36h4.25v5.32h-4.25zM421.39,108.36h4.25v5.32h-4.25zM428.89,108.36h4.25v5.32h-4.25zM436.38,108.36h4.25v5.32h-4.25zM361.43,113.18h4.25v5.32h-4.25zM410.15,113.18h4.25v5.32h-4.25zM432.64,113.18h4.25v5.32h-4.25zM353.94,117.99h4.25v5.32h-4.25zM365.18,117.99h4.25v5.32h-4.25zM383.92,117.99h4.25v5.32h-4.25zM425.14,117.99h4.25v5.32h-4.25zM387.67,122.81h4.25v5.32h-4.25zM410.15,122.81h4.25v5.32h-4.25zM383.92,127.63h8.00v5.32h-8.00zM406.40,127.63h4.25v5.32h-4.25zM417.65,127.63h4.25v5.32h-4.25zM346.44,137.26h4.25v5.32h-4.25zM353.94,137.26h4.25v5.32h-4.25zM342.70,146.90h4.25v5.32h-4.25zM368.93,151.72h4.25v5.32h-4.25zM368.93,156.53h4.25v5.32h-4.25zM361.43,161.35h4.25v5.32h-4.25zM368.93,161.35h4.25v5.32h-4.25zM387.67,161.35h4.25v5.32h-4.25zM395.16,166.17h8.00v5.32h-8.00zM413.90,175.80h4.25v5.32h-4.25zM428.89,175.80h4.25v5.32h-4.25zM357.69,180.62h8.00v5.32h-8.00zM365.18,185.44h4.25v5.32h-4.25zM425.14,185.44h4.25v5.32h-4.25zM380.17,199.89h4.25v5.32h-4.25zM398.91,199.89h4.25v5.32h-4.25zM391.41,204.71h4.25v5.32h-4.25zM410.15,204.71h4.25v5.32h-4.25zM391.41,209.52h4.25v5.32h-4.25zM406.40,209.52h4.25v5.32h-4.25zM383.92,214.34h4.25v5.32h-4.25zM436.38,214.34h4.25v5.32h-4.25zM395.16,219.16h4.25v5.32h-4.25zM432.64,219.16h4.25v5.32h-4.25zM455.12,219.16h4.25v5.32h-4.25zM387.67,223.97h11.74v5.32h-11.74zM402.66,223.97h4.25v5.32h-4.25zM447.63,223.97h8.00v5.32h-8.00zM387.67,228.79h11.74v5.32h-11.74zM372.68,233.61h8.00v5.32h-8.00zM398.91,233.61h4.25v5.32h-4.25zM432.64,233.61h4.25v5.32h-4.25zM387.67,238.43h4.25v5.32h-4.25zM398.91,238.43h4.25v5.32h-4.25zM387.67,243.24h4.25v5.32h-4.25zM376.42,248.06h4.25v5.32h-4.25zM376.42,252.88h4.25v5.32h-4.25zM380.17,257.69h4.25v5.32h-4.25zM406.40,262.51h4.25v5.32h-4.25zM383.92,286.60h4.25v5.32h-4.25zM380.17,291.42h8.00v5.32h-8.00z"/>
<path fill="#ffc800" d="M455.12,45.74h4.25v5.32h-4.25zM462.62,50.55h8.00v5.32h-8.00zM443.88,55.37h4.25v5.32h-4.25zM451.37,65.01h4.25v5.32h-4.25zM436.38,69.82h4.25v5.32h-4.25zM447.63,69.82h4.25v5.32h-4.25zM432.64,74.64h4.25v5.32h-4.25zM443.88,74.64h4.25v5.32h-4.25zM451.37,74.64h4.25v5.32h-4.25zM455.12,79.46h4.25v5.32h-4.25zM406.40,89.09h4.25v5.32h-4.25zM417.65,89.09h4.25v5.32h-4.25zM417.65,93.91h8.00v5.32h-8.00zM410.15,98.73h4.25v5.32h-4.25zM443.88,98.73h4.25v5.32h-4.25zM395.16,103.54h4.25v5.32h-4.25zM406.40,103.54h4.25v5.32h-4.25zM440.13,103.54h4.25v5.32h-4.25zM421.39,113.18h4.25v5.32h-4.25zM417.65,117.99h4.25v5.32h-4.25zM376.42,122.81h4.25v5.32h-4.25zM391.41,122.81h4.25v5.32h-4.25zM402.66,122.81h4.25v5.32h-4.25zM428.89,122.81h4.25v5.32h-4.25zM350.19,127.63h4.25v5.32h-4.25zM380.17,127.63h4.25v5.32h-4.25zM398.91,127.63h8.00v5.32h-8.00zM421.39,127.63h4.25v5.32h-4.25zM380.17,132.45h4.25v5.32h-4.25zM406.40,132.45h15.49v5.32h-15.49zM410.15,137.26h4.25v5.32h-4.25zM417.65,137.26h8.00v5.32h-8.00zM410.15,142.08h4.25v5.32h-4.25zM417.65,142.08h4.25v5.32h-4.25zM353.94,151.72h4.25v5.32h-4.25zM365.18,151.72h4.25v5.32h-4.25zM421.39,151.72h4.25v5.32h-4.25zM417.65,156.53h4.25v5.32h-4.25zM391.41,161.35h4.25v5.32h-4.25zM413.90,161.35h4.25v5.32h-4.25zM376.42,166.17h4.25v5.32h-4.25zM395.16,170.98h8.00v5.32h-8.00zM413.90,170.98h8.00v5.32h-8.00zM387.67,180.62h4.25v5.32h-4.25zM421.39,180.62h4.25v5.32h-4.25zM368.93,185.44h4.25v5.32h-4.25zM387.67,185.44h4.25v5.32h-4.25zM357.69,190.25h4.25v5.32h-4.25zM387.67,190.25h4.25v5.32h-4.25zM395.16,190.25h4.25v5.32h-4.25zM361.43,195.07h4.25v5.32h-4.25zM387.67,195.07h8.00v5.32h-8.00zM387.67,199.89h8.00v5.32h-8.00zM395.16,209.52h4.25v5.32h-4.25zM391.41,214.34h4.25v5.32h-4.25zM398.91,214.34h8.00v5.32h-8.00zM413.90,214.34h4.25v5.32h-4.25zM402.66,228.79h4.25v5.32h-4.25zM428.89,228.79h4.25v5.32h-4.25zM440.13,228.79h4.25v5.32h-4.25zM413.90,233.61h4.25v5.32h-4.25zM436.38,233.61h4.25v5.32h-4.25zM391.41,243.24h4.25v5.32h-4.25zM398.91,243.24h4.25v5.32h-4.25zM413.90,248.06h4.25v5.32h-4.25zM395.16,252.88h4.25v5.32h-4.25zM383.92,257.69h4.25v5.32h-4.25zM380.17,281.78h4.25v5.32h-4.25z"/>
<path fill="#f0f010" d="M462.62,36.10h4.25v5.32h-4.25zM458.87,40.92h4.25v5.32h-4.25zM447.63,55.37h4.25v5.32h-4.25zM455.12,60.19h4.25v5.32h-4.25zM462.62,60.19h4.25v5.32h-4.25zM432.64,69.82h4.25v5.32h-4.25zM451.37,69.82h4.25v5.32h-4.25zM436.38,74.64h4.25v5.32h-4.25zM447.63,74.64h4.25v5.32h-4.25zM410.15,84.27h4.25v5.32h-4.25zM428.89,84.27h4.25v5.32h-4.25zM425.14,89.09h4.25v5.32h-4.25zM432.64,89.09h4.25v5.32h-4.25zM443.88,89.09h4.25v5.32h-4.25zM391.41,93.91h4.25v5.32h-4.25zM425.14,93.91h4.25v5.32h-4.25zM436.38,93.91h8.00v5.32h-8.00zM402.66,98.73h8.00v5.32h-8.00zM425.14,98.73h4.25v5.32h-4.25zM440.13,98.73h4.25v5.32h-4.25zM368.93,103.54h4.25v5.32h-4.25zM410.15,108.36h11.74v5.32h-11.74zM413.90,113.18h4.25v5.32h-4.25zM421.39,117.99h4.25v5.32h-4.25zM383.92,122.81h4.25v5.32h-4.25zM406.40,122.81h4.25v5.32h-4.25zM357.69,127.63h4.25v5.32h-4.25zM395.16,127.63h4.25v5.32h-4.25zM353.94,132.45h4.25v5.32h-4.25zM361.43,132.45h4.25v5.32h-4.25zM383.92,132.45h8.00v5.32h-8.00zM402.66,132.45h4.25v5.32h-4.25zM421.39,132.45h4.25v5.32h-4.25zM335.20,137.26h4.25v5.32h-4.25zM406.40,137.26h4.25v5.32h-4.25zM387.67,142.08h4.25v5.32h-4.25zM413.90,142.08h4.25v5.32h-4.25zM387.67,146.90h4.25v5.32h-4.25zM346.44,151.72h8.00v5.32h-8.00zM387.67,151.72h4.25v5.32h-4.25zM417.65,151.72h4.25v5.32h-4.25zM357.69,156.53h8.00v5.32h-8.00zM387.67,156.53h8.00v5.32h-8.00zM376.42,161.35h11.74v5.32h-11.74zM395.16,161.35h4.25v5.32h-4.25zM406.40,161.35h8.00v5.32h-8.00zM417.65,161.35h4.25v5.32h-4.25zM387.67,166.17h8.00v5.32h-8.00zM402.66,166.17h4.25v5.32h-4.25zM387.67,170.98h8.00v5.32h-8.00zM402.66,170.98h4.25v5.32h-4.25zM368.93,175.80h4.25v5.32h-4.25zM387.67,175.80h4.25v5.32h-4.25zM395.16,175.80h8.00v5.32h-8.00zM417.65,175.80h4.25v5.32h-4.25zM368.93,180.62h4.25v5.32h-4.25zM413.90,180.62h8.00v5.32h-8.00zM357.69,185.44h4.25v5.32h-4.25zM391.41,185.44h4.25v5.32h-4.25zM410.15,185.44h11.74v5.32h-11.74zM428.89,185.44h4.25v5.32h-4.25zM391.41,190.25h4.25v5.32h-4.25zM417.65,190.25h8.00v5.32h-8.00zM395.16,195.07h8.00v5.32h-8.00zM421.39,195.07h4.25v5.32h-4.25zM395.16,199.89h4.25v5.32h-4.25zM421.39,199.89h4.25v5.32h-4.25zM387.67,204.71h4.25v5.32h-4.25zM395.16,204.71h4.25v5.32h-4.25zM406.40,204.71h4.25v5.32h-4.25zM413.90,204.71h4.25v5.32h-4.25zM432.64,209.52h8.00v5.32h-8.00zM395.16,214.34h4.25v5.32h-4.25zM432.64,214.34h4.25v5.32h-4.25zM413.90,219.16h4.25v5.32h-4.25zM440.13,219.16h15.49v5.32h-15.49zM432.64,223.97h4.25v5.32h-4.25zM376.42,228.79h4.25v5.32h-4.25zM421.39,228.79h8.00v5.32h-8.00zM387.67,233.61h4.25v5.32h-4.25zM410.15,233.61h4.25v5.32h-4.25zM425.14,233.61h8.00v5.32h-8.00zM402.66,238.43h4.25v5.32h-4.25zM372.68,248.06h4.25v5.32h-4.25zM398.91,248.06h8.00v5.32h-8.00zM372.68,252.88h4.25v5.32h-4.25zM391.41,252.88h4.25v5.32h-4.25zM383.92,281.78h11.74v5.32h-11.74zM380.17,286.60h4.25v5.32h-4.25zM387.67,286.60h4.25v5.32h-4.25zM387.67,291.42h4.25v5.32h-4.25zM383.92,296.23h8.00v5.32h-8.00z"/>
<path fill="#c0ff38" d="M466.36,36.10h4.25v5.32h-4.25zM458.87,45.74h4.25v5.32h-4.25zM455.12,50.55h4.25v5.32h-4.25zM455.12,55.37h4.25v5.32h-4.25zM440.13,74.64h4.25v5.32h-4.25zM350.19,79.46h4.25v5.32h-4.25zM350.19,84.27h4.25v5.32h-4.25zM406.40,84.27h4.25v5.32h-4.25zM428.89,89.09h4.25v5.32h-4.25zM428.89,93.91h8.00v5.32h-8.00zM443.88,93.91h4.25v5.32h-4.25zM428.89,98.73h4.25v5.32h-4.25zM436.38,98.73h4.25v5.32h-4.25zM365.18,103.54h4.25v5.32h-4.25zM417.65,113.18h4.25v5.32h-4.25zM428.89,113.18h4.25v5.32h-4.25zM428.89,117.99h4.25v5.32h-4.25zM380.17,122.81h4.25v5.32h-4.25zM395.16,122.81h8.00v5.32h-8.00zM391.41,127.63h4.25v5.32h-4.25zM425.14,127.63h4.25v5.32h-4.25zM350.19,132.45h4.25v5.32h-4.25zM398.91,132.45h4.25v5.32h-4.25zM342.70,137.26h4.25v5.32h-4.25zM387.67,137.26h4.25v5.32h-4.25zM398.91,137.26h8.00v5.32h-8.00zM391.41,142.08h4.25v5.32h-4.25zM421.39,142.08h4.25v5.32h-4.25zM335.20,146.90h8.00v5.32h-8.00zM391.41,146.90h4.25v5.32h-4.25zM410.15,146.90h4.25v5.32h-4.25zM391.41,151.72h4.25v5.32h-4.25zM406.40,151.72h4.25v5.32h-4.25zM413.90,151.72h4.25v5.32h-4.25zM395.16,156.53h4.25v5.32h-4.25zM406.40,156.53h4.25v5.32h-4.25zM413.90,156.53h4.25v5.32h-4.25zM421.39,156.53h4.25v5.32h-4.25zM365.18,161.35h4.25v5.32h-4.25zM398.91,161.35h8.00v5.32h-8.00zM368.93,166.17h4.25v5.32h-4.25zM406.40,166.17h22.99v5.32h-22.99zM368.93,170.98h4.25v5.32h-4.25zM406.40,170.98h8.00v5.32h-8.00zM421.39,170.98h4.25v5.32h-4.25zM365.18,175.80h4.25v5.32h-4.25zM391.41,175.80h4.25v5.32h-4.25zM402.66,175.80h4.25v5.32h-4.25zM410.15,175.80h4.25v5.32h-4.25zM421.39,175.80h4.25v5.32h-4.25zM365.18,180.62h4.25v5.32h-4.25zM391.41,180.62h4.25v5.32h-4.25zM398.91,180.62h8.00v5.32h-8.00zM410.15,180.62h4.25v5.32h-4.25zM425.14,180.62h8.00v5.32h-8.00zM398.91,185.44h4.25v5.32h-4.25zM421.39,185.44h4.25v5.32h-4.25zM432.64,185.44h4.25v5.32h-4.25zM365.18,190.25h4.25v5.32h-4.25zM398.91,190.25h4.25v5.32h-4.25zM413.90,190.25h4.25v5.32h-4.25zM425.14,190.25h4.25v5.32h-4.25zM402.66,195.07h4.25v5.32h-4.25zM402.66,199.89h4.25v5.32h-4.25zM398.91,204.71h4.25v5.32h-4.25zM428.89,209.52h4.25v5.32h-4.25zM380.17,214.34h4.25v5.32h-4.25zM417.65,214.34h4.25v5.32h-4.25zM417.65,219.16h8.00v5.32h-8.00zM383.92,223.97h4.25v5.32h-4.25zM436.38,223.97h8.00v5.32h-8.00zM436.38,228.79h4.25v5.32h-4.25zM421.39,233.61h4.25v5.32h-4.25zM380.17,238.43h8.00v5.32h-8.00zM406.40,238.43h4.25v5.32h-4.25zM372.68,243.24h11.74v5.32h-11.74zM395.16,243.24h4.25v5.32h-4.25zM413.90,243.24h4.25v5.32h-4.25zM368.93,248.06h4.25v5.32h-4.25zM380.17,248.06h8.00v5.32h-8.00zM395.16,248.06h4.25v5.32h-4.25zM406.40,248.06h4.25v5.32h-4.25zM368.93,252.88h4.25v5.32h-4.25zM398.91,252.88h8.00v5.32h-8.00zM376.42,257.69h4.25v5.32h-4.25zM376.42,262.51h4.25v5.32h-4.25zM398.91,262.51h8.00v5.32h-8.00zM372.68,272.15h8.00v5.32h-8.00zM383.92,276.96h11.74v5.32h-11.74zM376.42,281.78h4.25v5.32h-4.25zM376.42,286.60h4.25v5.32h-4.25zM391.41,286.60h4.25v5.32h-4.25zM391.41,291.42h4.25v5.32h-4.25z"/>
<path fill="#80ff78" d="M462.62,40.92h4.25v5.32h-4.25zM462.62,45.74h4.25v5.32h-4.25zM458.87,50.55h4.25v5.32h-4.25zM432.64,98.73h4.25v5.32h-4.25zM436.38,103.54h4.25v5.32h-4.25zM391.41,132.45h8.00v5.32h-8.00zM391.41,137.26h8.00v5.32h-8.00zM406.40,142.08h4.25v5.32h-4.25zM406.40,146.90h4.25v5.32h-4.25zM413.90,146.90h11.74v5.32h-11.74zM395.16,151.72h4.25v5.32h-4.25zM353.94,156.53h4.25v5.32h-4.25zM421.39,161.35h4.25v5.32h-4.25zM425.14,170.98h4.25v5.32h-4.25zM406.40,175.80h4.25v5.32h-4.25zM425.14,175.80h4.25v5.32h-4.25zM406.40,180.62h4.25v5.32h-4.25zM402.66,185.44h8.00v5.32h-8.00zM406.40,190.25h8.00v5.32h-8.00zM398.91,209.52h4.25v5.32h-4.25zM425.14,209.52h4.25v5.32h-4.25zM421.39,214.34h4.25v5.32h-4.25zM380.17,219.16h8.00v5.32h-8.00zM383.92,228.79h4.25v5.32h-4.25zM383.92,233.61h4.25v5.32h-4.25zM383.92,243.24h4.25v5.32h-4.25zM402.66,243.24h4.25v5.32h-4.25zM387.67,248.06h4.25v5.32h-4.25zM410.15,248.06h4.25v5.32h-4.25zM387.67,252.88h4.25v5.32h-4.25zM406.40,252.88h4.25v5.32h-4.25zM395.16,272.15h4.25v5.32h-4.25zM395.16,276.96h4.25v5.32h-4.25zM395.16,281.78h4.25v5.32h-4.25z"/>
<path fill="#48ffb0" d="M432.64,108.36h4.25v5.32h-4.25zM425.14,122.81h4.25v5.32h-4.25zM338.95,137.26h4.25v5.32h-4.25zM357.69,137.26h4.25v5.32h-4.25zM395.16,142.08h11.74v5.32h-11.74zM346.44,146.90h4.25v5.32h-4.25zM395.16,146.90h11.74v5.32h-11.74zM342.70,151.72h4.25v5.32h-4.25zM398.91,151.72h8.00v5.32h-8.00zM410.15,151.72h4.25v5.32h-4.25zM398.91,156.53h8.00v5.32h-8.00zM410.15,156.53h4.25v5.32h-4.25zM365.18,166.17h4.25v5.32h-4.25zM365.18,170.98h4.25v5.32h-4.25zM395.16,180.62h4.25v5.32h-4.25zM395.16,185.44h4.25v5.32h-4.25zM402.66,190.25h4.25v5.32h-4.25zM428.89,190.25h8.00v5.32h-8.00zM417.65,195.07h4.25v5.32h-4.25zM425.14,195.07h4.25v5.32h-4.25zM417.65,199.89h4.25v5.32h-4.25zM425.14,199.89h4.25v5.32h-4.25zM402.66,204.71h4.25v5.32h-4.25zM428.89,204.71h11.74v5.32h-11.74zM402.66,209.52h4.25v5.32h-4.25zM413.90,209.52h11.74v5.32h-11.74zM440.13,209.52h15.49v5.32h-15.49zM458.87,209.52h4.25v5.32h-4.25zM440.13,214.34h4.25v5.32h-4.25zM455.12,214.34h8.00v5.32h-8.00zM380.17,233.61h4.25v5.32h-4.25zM376.42,238.43h4.25v5.32h-4.25zM410.15,238.43h8.00v5.32h-8.00zM368.93,243.24h4.25v5.32h-4.25zM406.40,243.24h4.25v5.32h-4.25zM391.41,248.06h4.25v5.32h-4.25zM383.92,252.88h4.25v5.32h-4.25zM387.67,257.69h4.25v5.32h-4.25zM402.66,257.69h4.25v5.32h-4.25zM380.17,262.51h4.25v5.32h-4.25zM387.67,267.33h4.25v5.32h-4.25zM395.16,267.33h4.25v5.32h-4.25zM380.17,276.96h4.25v5.32h-4.25z"/>
<path fill="#18f0e0" d="M432.64,103.54h4.25v5.32h-4.25zM350.19,146.90h4.25v5.32h-4.25zM361.43,146.90h4.25v5.32h-4.25zM335.20,151.72h8.00v5.32h-8.00zM346.44,156.53h8.00v5.32h-8.00zM406.40,195.07h4.25v5.32h-4.25zM436.38,195.07h4.25v5.32h-4.25zM428.89,199.89h11.74v5.32h-11.74zM421.39,204.71h8.00v5.32h-8.00zM440.13,204.71h4.25v5.32h-4.25zM455.12,209.52h4.25v5.32h-4.25zM443.88,214.34h11.74v5.32h-11.74zM376.42,223.97h4.25v5.32h-4.25zM398.91,223.97h4.25v5.32h-4.25zM372.68,228.79h4.25v5.32h-4.25zM380.17,228.79h4.25v5.32h-4.25zM398.91,228.79h4.25v5.32h-4.25zM372.68,238.43h4.25v5.32h-4.25zM410.15,243.24h4.25v5.32h-4.25zM380.17,252.88h4.25v5.32h-4.25zM391.41,257.69h11.74v5.32h-11.74zM376.42,267.33h8.00v5.32h-8.00zM380.17,272.15h4.25v5.32h-4.25z"/>
<path fill="#00c0ff" d="M346.44,142.08h8.00v5.32h-8.00zM365.18,195.07h4.25v5.32h-4.25zM417.65,204.71h4.25v5.32h-4.25zM383.92,209.52h4.25v5.32h-4.25zM391.41,219.16h4.25v5.32h-4.25zM391.41,267.33h4.25v5.32h-4.25zM387.67,272.15h4.25v5.32h-4.25zM376.42,276.96h4.25v5.32h-4.25z"/>
<path fill="#0080ff" d="M353.94,127.63h4.25v5.32h-4.25zM357.69,132.45h4.25v5.32h-4.25zM361.43,137.26h4.25v5.32h-4.25zM353.94,142.08h4.25v5.32h-4.25zM361.43,142.08h4.25v5.32h-4.25zM410.15,195.07h8.00v5.32h-8.00zM428.89,195.07h8.00v5.32h-8.00zM410.15,199.89h8.00v5.32h-8.00zM440.13,199.89h4.25v5.32h-4.25zM451.37,204.71h4.25v5.32h-4.25zM387.67,219.16h4.25v5.32h-4.25zM380.17,223.97h4.25v5.32h-4.25zM383.92,262.51h15.49v5.32h-15.49zM383.92,267.33h4.25v5.32h-4.25zM383.92,272.15h4.25v5.32h-4.25zM372.68,276.96h4.25v5.32h-4.25z"/>
<path fill="#0030ff" d="M357.69,142.08h4.25v5.32h-4.25zM353.94,146.90h8.00v5.32h-8.00zM406.40,199.89h4.25v5.32h-4.25zM443.88,204.71h8.00v5.32h-8.00zM372.68,223.97h4.25v5.32h-4.25zM391.41,272.15h4.25v5.32h-4.25z"/>
<path fill="#0000c0" d="M380.17,204.71h8.00v5.32h-8.00zM380.17,209.52h4.25v5.32h-4.25zM376.42,214.34h4.25v5.32h-4.25z"/>
</g>
<rect x="335.45" y="21.9" width="153.65" height="279.4" fill="none" stroke="#111" stroke-width="0.9"/>
<line x1="337.3" y1="301.29999999999995" x2="337.3" y2="304.9" stroke="#111" stroke-width="0.9"/><text class="l" x="336.9" y="316.5" text-anchor="middle">−1.5</text>
<line x1="374.8" y1="301.29999999999995" x2="374.8" y2="304.9" stroke="#111" stroke-width="0.9"/><text class="l" x="374.4" y="316.5" text-anchor="middle">−1.0</text>
<line x1="412.3" y1="301.29999999999995" x2="412.3" y2="304.9" stroke="#111" stroke-width="0.9"/><text class="l" x="411.9" y="316.5" text-anchor="middle">−0.5</text>
<line x1="449.8" y1="301.29999999999995" x2="449.8" y2="304.9" stroke="#111" stroke-width="0.9"/><text class="l" x="449.4" y="316.5" text-anchor="middle">0.0</text>
<line x1="487.2" y1="301.29999999999995" x2="487.2" y2="304.9" stroke="#111" stroke-width="0.9"/><text class="l" x="486.8" y="316.5" text-anchor="middle">0.5</text>
<line x1="331.84999999999997" y1="289.3" x2="335.45" y2="289.3" stroke="#111" stroke-width="0.9"/><text class="l" x="327.6" y="293.4" text-anchor="end">38.0</text>
<line x1="331.84999999999997" y1="241.1" x2="335.45" y2="241.1" stroke="#111" stroke-width="0.9"/><text class="l" x="327.6" y="245.2" text-anchor="end">38.5</text>
<line x1="331.84999999999997" y1="192.9" x2="335.45" y2="192.9" stroke="#111" stroke-width="0.9"/><text class="l" x="327.6" y="197.0" text-anchor="end">39.0</text>
<line x1="331.84999999999997" y1="144.7" x2="335.45" y2="144.7" stroke="#111" stroke-width="0.9"/><text class="l" x="327.6" y="148.8" text-anchor="end">39.5</text>
<line x1="331.84999999999997" y1="96.6" x2="335.45" y2="96.6" stroke="#111" stroke-width="0.9"/><text class="l" x="327.6" y="100.7" text-anchor="end">40.0</text>
<line x1="331.84999999999997" y1="48.4" x2="335.45" y2="48.4" stroke="#111" stroke-width="0.9"/><text class="l" x="327.6" y="52.5" text-anchor="end">40.5</text>
<text class="t" x="411.7" y="16.0" text-anchor="middle">2015 anomalies</text>
<text class="a" x="412.3" y="330.3" text-anchor="middle">longitude [degrees_east]</text>
<text class="a" transform="translate(298.8,161.6) rotate(-90)" text-anchor="middle">latitude [degrees_north]</text>
<rect x="499.4" y="33.4" width="14.0" height="254.8" fill="url(#jet)"/><path d="M499.4,33.6 L506.4,20.9 L513.4,33.6 Z" fill="#800000"/><path d="M499.4,288.0 L506.4,300.79999999999995 L513.4,288.0 Z" fill="#000080"/><path d="M499.4,33.4 L506.4,20.9 L513.4,33.4 L513.4,288.2 L506.4,300.79999999999995 L499.4,288.2 Z" fill="none" stroke="#111" stroke-width="0.9" stroke-linejoin="miter"/>
<line x1="513.4" y1="58.8" x2="517.0" y2="58.8" stroke="#111" stroke-width="0.9"/><text class="l" x="521.0" y="63.1">0.6</text>
<line x1="513.4" y1="93.0" x2="517.0" y2="93.0" stroke="#111" stroke-width="0.9"/><text class="l" x="521.0" y="97.3">0.4</text>
<line x1="513.4" y1="127.1" x2="517.0" y2="127.1" stroke="#111" stroke-width="0.9"/><text class="l" x="521.0" y="131.4">0.2</text>
<line x1="513.4" y1="161.2" x2="517.0" y2="161.2" stroke="#111" stroke-width="0.9"/><text class="l" x="521.0" y="165.5">0.0</text>
<line x1="513.4" y1="195.3" x2="517.0" y2="195.3" stroke="#111" stroke-width="0.9"/><text class="l" x="521.0" y="199.6">−0.2</text>
<line x1="513.4" y1="229.4" x2="517.0" y2="229.4" stroke="#111" stroke-width="0.9"/><text class="l" x="521.0" y="233.7">−0.4</text>
<line x1="513.4" y1="263.6" x2="517.0" y2="263.6" stroke="#111" stroke-width="0.9"/><text class="l" x="521.0" y="267.9">−0.6</text>
</g>
<g>
<g filter="url(#soft)">
<path fill="#41434b" d="M148.34,382.63h8.81v6.07h-8.81zM148.34,387.45h20.05v6.07h-20.05zM170.82,387.45h16.30v6.07h-16.30zM137.09,392.26h50.03v6.07h-50.03zM144.59,397.08h53.78v6.07h-53.78zM144.59,401.90h53.78v6.07h-53.78zM144.59,406.72h59.21v6.07h-59.21zM203.43,412.30L203.80,412.30L203.43,416.64zM140.84,411.53h62.58v6.07h-62.58zM196.49,417.12L203.43,417.12L196.49,421.46zM140.84,416.35h55.65v6.07h-55.65zM192.75,421.94L196.49,421.94L192.75,426.27zM140.84,421.17h51.90v6.07h-51.90zM191.62,426.76L192.75,426.76L191.62,431.09zM137.09,425.98h54.53v6.07h-54.53zM187.12,431.57L191.62,431.57L187.12,435.91zM133.35,430.80h53.78v6.07h-53.78zM183.38,436.39L187.12,436.39L183.38,440.73zM65.89,435.62h5.06v6.07h-5.06zM122.10,435.62h61.27v6.07h-61.27zM179.63,441.21L183.38,441.21L179.63,445.54zM65.89,440.44h5.06v6.07h-5.06zM122.10,440.44h57.53v6.07h-57.53zM175.88,446.02L179.63,446.02L175.88,450.36zM58.40,445.25h23.80v6.07h-23.80zM118.36,445.25h57.53v6.07h-57.53zM172.13,450.84L175.88,450.84L172.13,455.18zM62.14,450.07h23.80v6.07h-23.80zM114.61,450.07h57.53v6.07h-57.53zM168.39,455.66L172.13,455.66L168.39,459.99zM69.64,454.89h5.06v6.07h-5.06zM107.11,454.89h61.27v6.07h-61.27zM73.39,459.71h23.80v6.07h-23.80zM103.37,459.71h65.02v6.07h-65.02zM160.89,465.29L168.39,465.29L160.89,469.63zM77.13,464.52h20.05v6.07h-20.05zM103.37,464.52h57.53v6.07h-57.53zM73.39,469.34h87.51v6.07h-87.51zM157.14,474.93L160.89,474.93L157.14,479.26zM73.39,474.16h83.76v6.07h-83.76zM153.40,479.74L157.14,479.74L153.40,484.08zM69.64,478.97h83.76v6.07h-83.76zM150.21,484.56L153.40,484.56L150.21,488.90zM69.64,483.79h80.57v6.07h-80.57zM58.40,488.61h91.82v6.07h-91.82zM146.46,494.20L150.21,494.20L146.46,498.53zM54.65,493.43h91.82v6.07h-91.82zM142.72,499.01L146.46,499.01L142.72,503.35zM50.90,498.24h91.82v6.07h-91.82zM50.90,503.06h91.82v6.07h-91.82zM50.90,507.88h91.82v6.07h-91.82zM50.90,512.69h91.82v6.07h-91.82zM62.14,517.51h80.57v6.07h-80.57zM77.13,522.33h65.58v6.07h-65.58zM77.13,527.15h68.96v6.07h-68.96zM77.13,531.96h72.70v6.07h-72.70zM73.39,536.78h76.45v6.07h-76.45zM69.64,541.60h80.57v6.07h-80.57zM69.64,546.42h84.32v6.07h-84.32zM73.39,551.23h80.57v6.07h-80.57zM77.13,556.05h80.57v6.07h-80.57zM95.87,560.87h65.58v6.07h-65.58zM95.87,565.68h80.01v6.07h-80.01zM95.87,570.50h84.69v6.07h-84.69zM92.12,575.32h89.94v6.07h-89.94zM180.57,580.91L182.07,580.91L180.57,585.24zM95.87,580.14h84.69v6.07h-84.69zM173.07,585.72L180.57,585.72L173.07,590.06zM88.38,584.95h84.69v6.07h-84.69zM162.95,590.54L173.07,590.54L162.95,594.88zM88.38,589.77h74.58v6.07h-74.58zM159.20,595.36L162.95,595.36L159.20,599.69zM88.38,594.59h70.83v6.07h-70.83zM144.21,600.18L159.20,600.18L144.21,604.51zM88.38,599.41h55.84v6.07h-55.84zM140.47,604.99L144.21,604.99L140.47,609.33zM84.63,604.22h55.84v6.07h-55.84zM136.72,609.81L140.47,609.81L136.72,614.15zM84.63,609.04h52.09v6.07h-52.09zM131.47,614.63L136.72,614.63L131.47,618.96zM84.63,613.86h46.84v6.07h-46.84zM123.98,619.44L131.47,619.44L123.98,623.78zM91.00,618.67h32.98v6.07h-32.98zM91.00,623.49h36.73v6.07h-36.73zM91.00,628.31h36.73v6.07h-36.73zM120.23,633.90L127.73,633.90L120.23,638.23zM87.25,633.13h32.98v6.07h-32.98zM116.48,638.71L120.23,638.71L116.48,643.05zM87.25,637.94h29.23v6.07h-29.23zM92.12,642.76h24.36v6.07h-24.36zM92.12,647.58h24.36v6.07h-24.36zM112.74,653.17L116.48,653.17L112.74,657.50zM95.87,652.39h16.86v6.07h-16.86zM108.99,657.98L112.74,657.98L108.99,662.32zM99.62,657.21h9.37v6.07h-9.37zM56.15,444.58L66.64,444.82L71.14,445.06L80.13,445.78L84.63,451.80L79.76,455.42L73.95,456.38L73.76,460.72L70.01,460.72L70.01,456.38L61.39,455.42L59.89,450.84z"/>
<path fill="#800000" d="M197.55,412.05h4.25v5.32h-4.25zM190.06,416.87h4.25v5.32h-4.25zM152.58,445.77h22.99v5.32h-22.99zM160.08,450.59h11.74v5.32h-11.74zM156.33,455.41h4.25v5.32h-4.25zM156.33,465.04h4.25v5.32h-4.25zM152.58,469.86h8.00v5.32h-8.00zM107.61,474.68h8.00v5.32h-8.00zM152.58,474.68h4.25v5.32h-4.25zM107.61,479.49h11.74v5.32h-11.74zM148.84,479.49h4.25v5.32h-4.25zM100.12,484.31h30.48v5.32h-30.48zM145.09,484.31h4.25v5.32h-4.25zM100.12,489.13h15.49v5.32h-15.49zM118.86,489.13h4.25v5.32h-4.25zM145.09,489.13h4.25v5.32h-4.25zM111.36,493.95h34.23v5.32h-34.23zM111.36,498.76h30.48v5.32h-30.48zM118.86,503.58h15.49v5.32h-15.49zM111.36,508.40h4.25v5.32h-4.25zM122.60,508.40h11.74v5.32h-11.74zM73.89,513.22h4.25v5.32h-4.25zM122.60,513.22h11.74v5.32h-11.74zM118.86,518.03h15.49v5.32h-15.49zM118.86,522.85h19.24v5.32h-19.24zM118.86,527.67h26.73v5.32h-26.73zM118.86,532.48h30.48v5.32h-30.48zM122.60,537.30h8.00v5.32h-8.00zM145.09,537.30h4.25v5.32h-4.25zM122.60,542.12h8.00v5.32h-8.00zM145.09,542.12h4.25v5.32h-4.25zM107.61,546.94h22.99v5.32h-22.99zM107.61,551.75h22.99v5.32h-22.99zM107.61,556.57h26.73v5.32h-26.73zM100.12,561.39h4.25v5.32h-4.25zM115.11,561.39h19.24v5.32h-19.24zM96.37,575.84h4.25v5.32h-4.25zM88.88,585.47h11.74v5.32h-11.74zM115.11,585.47h8.00v5.32h-8.00zM88.88,590.29h11.74v5.32h-11.74zM115.11,590.29h8.00v5.32h-8.00zM122.60,595.11h8.00v5.32h-8.00zM88.88,599.93h15.49v5.32h-15.49zM85.13,604.74h4.25v5.32h-4.25zM122.60,604.74h8.00v5.32h-8.00zM85.13,609.56h4.25v5.32h-4.25zM126.35,609.56h4.25v5.32h-4.25zM85.13,614.38h11.74v5.32h-11.74zM103.87,614.38h4.25v5.32h-4.25zM122.60,614.38h4.25v5.32h-4.25zM92.62,619.19h11.74v5.32h-11.74zM92.62,624.01h11.74v5.32h-11.74zM111.36,624.01h15.49v5.32h-15.49zM92.62,628.83h30.48v5.32h-30.48zM88.88,633.65h8.00v5.32h-8.00zM107.61,633.65h11.74v5.32h-11.74zM96.37,638.46h4.25v5.32h-4.25zM107.61,638.46h8.00v5.32h-8.00zM96.37,643.28h4.25v5.32h-4.25zM107.61,643.28h8.00v5.32h-8.00z"/>
<path fill="#b40000" d="M182.56,387.97h4.25v5.32h-4.25zM193.81,397.60h4.25v5.32h-4.25zM193.81,407.24h8.00v5.32h-8.00zM193.81,412.05h4.25v5.32h-4.25zM182.56,426.51h8.00v5.32h-8.00zM141.34,431.32h8.00v5.32h-8.00zM182.56,431.32h4.25v5.32h-4.25zM171.32,436.14h11.74v5.32h-11.74zM167.57,440.96h11.74v5.32h-11.74zM152.58,450.59h4.25v5.32h-4.25zM163.83,455.41h4.25v5.32h-4.25zM156.33,460.23h11.74v5.32h-11.74zM122.60,465.04h8.00v5.32h-8.00zM152.58,465.04h4.25v5.32h-4.25zM148.84,474.68h4.25v5.32h-4.25zM130.10,484.31h4.25v5.32h-4.25zM141.34,484.31h4.25v5.32h-4.25zM115.11,489.13h4.25v5.32h-4.25zM122.60,489.13h11.74v5.32h-11.74zM141.34,489.13h4.25v5.32h-4.25zM70.14,493.95h4.25v5.32h-4.25zM77.63,498.76h4.25v5.32h-4.25zM111.36,503.58h4.25v5.32h-4.25zM107.61,508.40h4.25v5.32h-4.25zM115.11,508.40h4.25v5.32h-4.25zM66.39,513.22h8.00v5.32h-8.00zM77.63,513.22h4.25v5.32h-4.25zM107.61,513.22h15.49v5.32h-15.49zM107.61,518.03h11.74v5.32h-11.74zM137.59,518.03h4.25v5.32h-4.25zM107.61,522.85h11.74v5.32h-11.74zM107.61,532.48h11.74v5.32h-11.74zM81.38,537.30h4.25v5.32h-4.25zM141.34,537.30h4.25v5.32h-4.25zM115.11,542.12h8.00v5.32h-8.00zM73.89,551.75h8.00v5.32h-8.00zM130.10,551.75h4.25v5.32h-4.25zM133.85,556.57h4.25v5.32h-4.25zM96.37,561.39h4.25v5.32h-4.25zM96.37,566.21h4.25v5.32h-4.25zM96.37,571.02h4.25v5.32h-4.25zM92.62,575.84h4.25v5.32h-4.25zM126.35,575.84h4.25v5.32h-4.25zM175.07,575.84h4.25v5.32h-4.25zM96.37,580.66h4.25v5.32h-4.25zM171.32,580.66h8.00v5.32h-8.00zM148.84,595.11h4.25v5.32h-4.25zM118.86,599.93h11.74v5.32h-11.74zM92.62,604.74h8.00v5.32h-8.00zM115.11,604.74h8.00v5.32h-8.00zM96.37,609.56h8.00v5.32h-8.00zM111.36,609.56h15.49v5.32h-15.49zM96.37,614.38h4.25v5.32h-4.25zM115.11,614.38h8.00v5.32h-8.00zM103.87,619.19h4.25v5.32h-4.25zM103.87,624.01h8.00v5.32h-8.00zM103.87,633.65h4.25v5.32h-4.25zM100.12,638.46h4.25v5.32h-4.25zM92.62,643.28h4.25v5.32h-4.25zM100.12,643.28h4.25v5.32h-4.25z"/>
<path fill="#ec1000" d="M178.82,387.97h4.25v5.32h-4.25zM182.56,392.78h4.25v5.32h-4.25zM171.32,397.60h4.25v5.32h-4.25zM186.31,397.60h8.00v5.32h-8.00zM182.56,402.42h15.49v5.32h-15.49zM190.06,407.24h4.25v5.32h-4.25zM156.33,412.05h8.00v5.32h-8.00zM190.06,412.05h4.25v5.32h-4.25zM152.58,416.87h8.00v5.32h-8.00zM167.57,416.87h4.25v5.32h-4.25zM152.58,421.69h4.25v5.32h-4.25zM167.57,421.69h4.25v5.32h-4.25zM186.31,421.69h4.25v5.32h-4.25zM141.34,426.51h4.25v5.32h-4.25zM163.83,426.51h4.25v5.32h-4.25zM175.07,431.32h8.00v5.32h-8.00zM148.84,436.14h8.00v5.32h-8.00zM145.09,440.96h15.49v5.32h-15.49zM163.83,440.96h4.25v5.32h-4.25zM133.85,445.77h8.00v5.32h-8.00zM148.84,445.77h4.25v5.32h-4.25zM66.39,450.59h4.25v5.32h-4.25zM148.84,450.59h4.25v5.32h-4.25zM156.33,450.59h4.25v5.32h-4.25zM148.84,455.41h8.00v5.32h-8.00zM152.58,460.23h4.25v5.32h-4.25zM148.84,465.04h4.25v5.32h-4.25zM103.87,469.86h15.49v5.32h-15.49zM141.34,469.86h11.74v5.32h-11.74zM100.12,474.68h8.00v5.32h-8.00zM115.11,474.68h4.25v5.32h-4.25zM141.34,474.68h8.00v5.32h-8.00zM100.12,479.49h8.00v5.32h-8.00zM118.86,479.49h4.25v5.32h-4.25zM141.34,479.49h8.00v5.32h-8.00zM133.85,484.31h8.00v5.32h-8.00zM133.85,489.13h8.00v5.32h-8.00zM73.89,493.95h4.25v5.32h-4.25zM107.61,493.95h4.25v5.32h-4.25zM70.14,498.76h8.00v5.32h-8.00zM103.87,498.76h8.00v5.32h-8.00zM70.14,503.58h4.25v5.32h-4.25zM77.63,503.58h8.00v5.32h-8.00zM107.61,503.58h4.25v5.32h-4.25zM115.11,503.58h4.25v5.32h-4.25zM133.85,503.58h8.00v5.32h-8.00zM62.64,508.40h19.24v5.32h-19.24zM100.12,508.40h4.25v5.32h-4.25zM118.86,508.40h4.25v5.32h-4.25zM51.40,513.22h8.00v5.32h-8.00zM62.64,513.22h4.25v5.32h-4.25zM92.62,513.22h11.74v5.32h-11.74zM133.85,513.22h4.25v5.32h-4.25zM73.89,518.03h8.00v5.32h-8.00zM96.37,518.03h8.00v5.32h-8.00zM133.85,518.03h4.25v5.32h-4.25zM77.63,522.85h11.74v5.32h-11.74zM111.36,527.67h8.00v5.32h-8.00zM81.38,532.48h4.25v5.32h-4.25zM103.87,532.48h4.25v5.32h-4.25zM103.87,537.30h8.00v5.32h-8.00zM115.11,537.30h8.00v5.32h-8.00zM133.85,537.30h8.00v5.32h-8.00zM77.63,542.12h8.00v5.32h-8.00zM107.61,542.12h8.00v5.32h-8.00zM141.34,542.12h4.25v5.32h-4.25zM130.10,546.94h4.25v5.32h-4.25zM145.09,546.94h4.25v5.32h-4.25zM103.87,551.75h4.25v5.32h-4.25zM133.85,551.75h19.24v5.32h-19.24zM77.63,556.57h4.25v5.32h-4.25zM103.87,556.57h4.25v5.32h-4.25zM137.59,556.57h15.49v5.32h-15.49zM103.87,561.39h11.74v5.32h-11.74zM133.85,561.39h4.25v5.32h-4.25zM152.58,561.39h4.25v5.32h-4.25zM100.12,566.21h4.25v5.32h-4.25zM100.12,571.02h4.25v5.32h-4.25zM100.12,575.84h4.25v5.32h-4.25zM100.12,580.66h4.25v5.32h-4.25zM107.61,580.66h4.25v5.32h-4.25zM115.11,580.66h11.74v5.32h-11.74zM100.12,585.47h4.25v5.32h-4.25zM137.59,585.47h4.25v5.32h-4.25zM100.12,590.29h4.25v5.32h-4.25zM122.60,590.29h8.00v5.32h-8.00zM141.34,590.29h4.25v5.32h-4.25zM152.58,590.29h8.00v5.32h-8.00zM88.88,595.11h15.49v5.32h-15.49zM115.11,595.11h8.00v5.32h-8.00zM130.10,595.11h19.24v5.32h-19.24zM152.58,595.11h4.25v5.32h-4.25zM103.87,599.93h4.25v5.32h-4.25zM115.11,599.93h4.25v5.32h-4.25zM130.10,599.93h4.25v5.32h-4.25zM88.88,604.74h4.25v5.32h-4.25zM100.12,604.74h8.00v5.32h-8.00zM111.36,604.74h4.25v5.32h-4.25zM130.10,604.74h4.25v5.32h-4.25zM92.62,609.56h4.25v5.32h-4.25zM103.87,609.56h8.00v5.32h-8.00zM130.10,609.56h4.25v5.32h-4.25zM100.12,614.38h4.25v5.32h-4.25zM107.61,614.38h8.00v5.32h-8.00zM107.61,619.19h11.74v5.32h-11.74zM96.37,633.65h8.00v5.32h-8.00zM88.88,638.46h8.00v5.32h-8.00zM103.87,638.46h4.25v5.32h-4.25zM103.87,643.28h4.25v5.32h-4.25zM92.62,648.10h4.25v5.32h-4.25zM103.87,648.10h8.00v5.32h-8.00zM96.37,652.92h8.00v5.32h-8.00zM107.61,652.92h4.25v5.32h-4.25zM103.87,657.73h4.25v5.32h-4.25z"/>
<path fill="#ff5900" d="M175.07,387.97h4.25v5.32h-4.25zM171.32,392.78h4.25v5.32h-4.25zM175.07,397.60h4.25v5.32h-4.25zM182.56,397.60h4.25v5.32h-4.25zM167.57,402.42h4.25v5.32h-4.25zM156.33,407.24h8.00v5.32h-8.00zM182.56,407.24h4.25v5.32h-4.25zM152.58,412.05h4.25v5.32h-4.25zM163.83,412.05h4.25v5.32h-4.25zM186.31,412.05h4.25v5.32h-4.25zM148.84,416.87h4.25v5.32h-4.25zM186.31,416.87h4.25v5.32h-4.25zM148.84,421.69h4.25v5.32h-4.25zM163.83,421.69h4.25v5.32h-4.25zM182.56,421.69h4.25v5.32h-4.25zM145.09,426.51h4.25v5.32h-4.25zM152.58,426.51h8.00v5.32h-8.00zM167.57,426.51h4.25v5.32h-4.25zM152.58,431.32h8.00v5.32h-8.00zM163.83,431.32h4.25v5.32h-4.25zM171.32,431.32h4.25v5.32h-4.25zM122.60,436.14h4.25v5.32h-4.25zM156.33,436.14h4.25v5.32h-4.25zM167.57,436.14h4.25v5.32h-4.25zM141.34,440.96h4.25v5.32h-4.25zM145.09,445.77h4.25v5.32h-4.25zM160.08,455.41h4.25v5.32h-4.25zM111.36,460.23h4.25v5.32h-4.25zM148.84,460.23h4.25v5.32h-4.25zM118.86,465.04h4.25v5.32h-4.25zM137.59,465.04h4.25v5.32h-4.25zM126.35,469.86h4.25v5.32h-4.25zM81.38,474.68h8.00v5.32h-8.00zM96.37,474.68h4.25v5.32h-4.25zM118.86,474.68h4.25v5.32h-4.25zM137.59,474.68h4.25v5.32h-4.25zM88.88,479.49h4.25v5.32h-4.25zM96.37,479.49h4.25v5.32h-4.25zM137.59,479.49h4.25v5.32h-4.25zM77.63,493.95h4.25v5.32h-4.25zM85.13,493.95h4.25v5.32h-4.25zM103.87,493.95h4.25v5.32h-4.25zM81.38,498.76h4.25v5.32h-4.25zM66.39,503.58h4.25v5.32h-4.25zM100.12,503.58h4.25v5.32h-4.25zM133.85,508.40h4.25v5.32h-4.25zM58.90,513.22h4.25v5.32h-4.25zM137.59,513.22h4.25v5.32h-4.25zM70.14,518.03h4.25v5.32h-4.25zM81.38,518.03h4.25v5.32h-4.25zM92.62,518.03h4.25v5.32h-4.25zM103.87,518.03h4.25v5.32h-4.25zM103.87,522.85h4.25v5.32h-4.25zM77.63,527.67h8.00v5.32h-8.00zM130.10,537.30h4.25v5.32h-4.25zM130.10,542.12h4.25v5.32h-4.25zM77.63,546.94h8.00v5.32h-8.00zM103.87,546.94h4.25v5.32h-4.25zM141.34,546.94h4.25v5.32h-4.25zM81.38,551.75h4.25v5.32h-4.25zM100.12,551.75h4.25v5.32h-4.25zM81.38,556.57h4.25v5.32h-4.25zM100.12,556.57h4.25v5.32h-4.25zM137.59,561.39h4.25v5.32h-4.25zM111.36,566.21h4.25v5.32h-4.25zM126.35,566.21h4.25v5.32h-4.25zM107.61,571.02h4.25v5.32h-4.25zM126.35,571.02h4.25v5.32h-4.25zM107.61,575.84h4.25v5.32h-4.25zM130.10,575.84h8.00v5.32h-8.00zM171.32,575.84h4.25v5.32h-4.25zM103.87,580.66h4.25v5.32h-4.25zM103.87,585.47h4.25v5.32h-4.25zM111.36,585.47h4.25v5.32h-4.25zM167.57,585.47h4.25v5.32h-4.25zM130.10,590.29h8.00v5.32h-8.00zM137.59,599.93h4.25v5.32h-4.25zM107.61,604.74h4.25v5.32h-4.25zM133.85,604.74h4.25v5.32h-4.25zM126.35,614.38h4.25v5.32h-4.25zM118.86,619.19h4.25v5.32h-4.25zM100.12,648.10h4.25v5.32h-4.25zM103.87,652.92h4.25v5.32h-4.25z"/>
<path fill="#ff9400" d="M175.07,392.78h8.00v5.32h-8.00zM167.57,397.60h4.25v5.32h-4.25zM163.83,402.42h4.25v5.32h-4.25zM171.32,402.42h8.00v5.32h-8.00zM148.84,407.24h8.00v5.32h-8.00zM163.83,407.24h4.25v5.32h-4.25zM178.82,407.24h4.25v5.32h-4.25zM186.31,407.24h4.25v5.32h-4.25zM145.09,412.05h8.00v5.32h-8.00zM167.57,412.05h4.25v5.32h-4.25zM182.56,412.05h4.25v5.32h-4.25zM141.34,416.87h8.00v5.32h-8.00zM175.07,416.87h11.74v5.32h-11.74zM141.34,421.69h4.25v5.32h-4.25zM156.33,421.69h4.25v5.32h-4.25zM171.32,421.69h11.74v5.32h-11.74zM148.84,426.51h4.25v5.32h-4.25zM160.08,426.51h4.25v5.32h-4.25zM171.32,426.51h4.25v5.32h-4.25zM178.82,426.51h4.25v5.32h-4.25zM133.85,431.32h4.25v5.32h-4.25zM148.84,431.32h4.25v5.32h-4.25zM160.08,431.32h4.25v5.32h-4.25zM167.57,431.32h4.25v5.32h-4.25zM66.39,436.14h4.25v5.32h-4.25zM126.35,436.14h4.25v5.32h-4.25zM137.59,436.14h8.00v5.32h-8.00zM160.08,436.14h8.00v5.32h-8.00zM66.39,440.96h4.25v5.32h-4.25zM126.35,440.96h4.25v5.32h-4.25zM137.59,440.96h4.25v5.32h-4.25zM160.08,440.96h4.25v5.32h-4.25zM66.39,445.77h4.25v5.32h-4.25zM141.34,445.77h4.25v5.32h-4.25zM141.34,450.59h8.00v5.32h-8.00zM111.36,455.41h8.00v5.32h-8.00zM122.60,455.41h4.25v5.32h-4.25zM137.59,455.41h4.25v5.32h-4.25zM77.63,460.23h4.25v5.32h-4.25zM85.13,460.23h4.25v5.32h-4.25zM107.61,460.23h4.25v5.32h-4.25zM115.11,460.23h4.25v5.32h-4.25zM85.13,465.04h4.25v5.32h-4.25zM130.10,465.04h8.00v5.32h-8.00zM141.34,465.04h8.00v5.32h-8.00zM81.38,469.86h8.00v5.32h-8.00zM100.12,469.86h4.25v5.32h-4.25zM118.86,469.86h8.00v5.32h-8.00zM130.10,469.86h4.25v5.32h-4.25zM88.88,474.68h4.25v5.32h-4.25zM130.10,474.68h8.00v5.32h-8.00zM85.13,479.49h4.25v5.32h-4.25zM122.60,479.49h4.25v5.32h-4.25zM133.85,479.49h4.25v5.32h-4.25zM70.14,484.31h4.25v5.32h-4.25zM92.62,484.31h4.25v5.32h-4.25zM58.90,489.13h11.74v5.32h-11.74zM92.62,489.13h8.00v5.32h-8.00zM55.15,493.95h11.74v5.32h-11.74zM81.38,493.95h4.25v5.32h-4.25zM66.39,498.76h4.25v5.32h-4.25zM100.12,498.76h4.25v5.32h-4.25zM51.40,503.58h11.74v5.32h-11.74zM73.89,503.58h4.25v5.32h-4.25zM85.13,503.58h4.25v5.32h-4.25zM103.87,503.58h4.25v5.32h-4.25zM51.40,508.40h11.74v5.32h-11.74zM81.38,508.40h4.25v5.32h-4.25zM96.37,508.40h4.25v5.32h-4.25zM103.87,508.40h4.25v5.32h-4.25zM137.59,508.40h4.25v5.32h-4.25zM81.38,513.22h4.25v5.32h-4.25zM103.87,513.22h4.25v5.32h-4.25zM62.64,518.03h8.00v5.32h-8.00zM88.88,522.85h4.25v5.32h-4.25zM100.12,522.85h4.25v5.32h-4.25zM103.87,527.67h4.25v5.32h-4.25zM100.12,532.48h4.25v5.32h-4.25zM77.63,537.30h4.25v5.32h-4.25zM100.12,537.30h4.25v5.32h-4.25zM70.14,542.12h8.00v5.32h-8.00zM103.87,542.12h4.25v5.32h-4.25zM133.85,542.12h8.00v5.32h-8.00zM70.14,546.94h8.00v5.32h-8.00zM133.85,546.94h4.25v5.32h-4.25zM148.84,546.94h4.25v5.32h-4.25zM92.62,551.75h8.00v5.32h-8.00zM85.13,556.57h4.25v5.32h-4.25zM141.34,561.39h11.74v5.32h-11.74zM103.87,566.21h8.00v5.32h-8.00zM115.11,566.21h11.74v5.32h-11.74zM130.10,566.21h8.00v5.32h-8.00zM103.87,571.02h4.25v5.32h-4.25zM130.10,571.02h8.00v5.32h-8.00zM175.07,571.02h4.25v5.32h-4.25zM103.87,575.84h4.25v5.32h-4.25zM122.60,575.84h4.25v5.32h-4.25zM111.36,580.66h4.25v5.32h-4.25zM126.35,585.47h11.74v5.32h-11.74zM141.34,585.47h4.25v5.32h-4.25zM156.33,585.47h8.00v5.32h-8.00zM103.87,590.29h4.25v5.32h-4.25zM145.09,590.29h8.00v5.32h-8.00zM103.87,595.11h4.25v5.32h-4.25zM107.61,599.93h8.00v5.32h-8.00zM133.85,599.93h4.25v5.32h-4.25zM96.37,648.10h4.25v5.32h-4.25zM100.12,657.73h4.25v5.32h-4.25z"/>
<path fill="#ffc800" d="M160.08,397.60h8.00v5.32h-8.00zM178.82,397.60h4.25v5.32h-4.25zM160.08,402.42h4.25v5.32h-4.25zM167.57,407.24h4.25v5.32h-4.25zM178.82,412.05h4.25v5.32h-4.25zM160.08,416.87h4.25v5.32h-4.25zM171.32,416.87h4.25v5.32h-4.25zM145.09,421.69h4.25v5.32h-4.25zM175.07,426.51h4.25v5.32h-4.25zM133.85,436.14h4.25v5.32h-4.25zM130.10,440.96h4.25v5.32h-4.25zM81.38,450.59h4.25v5.32h-4.25zM141.34,455.41h8.00v5.32h-8.00zM118.86,460.23h4.25v5.32h-4.25zM145.09,460.23h4.25v5.32h-4.25zM81.38,465.04h4.25v5.32h-4.25zM133.85,469.86h8.00v5.32h-8.00zM122.60,474.68h4.25v5.32h-4.25zM92.62,479.49h4.25v5.32h-4.25zM130.10,479.49h4.25v5.32h-4.25zM96.37,484.31h4.25v5.32h-4.25zM70.14,489.13h4.25v5.32h-4.25zM88.88,489.13h4.25v5.32h-4.25zM88.88,493.95h4.25v5.32h-4.25zM62.64,498.76h4.25v5.32h-4.25zM85.13,498.76h4.25v5.32h-4.25zM88.88,508.40h8.00v5.32h-8.00zM85.13,518.03h8.00v5.32h-8.00zM137.59,522.85h4.25v5.32h-4.25zM85.13,527.67h4.25v5.32h-4.25zM77.63,532.48h4.25v5.32h-4.25zM85.13,542.12h4.25v5.32h-4.25zM85.13,546.94h4.25v5.32h-4.25zM85.13,551.75h4.25v5.32h-4.25zM92.62,556.57h4.25v5.32h-4.25zM137.59,566.21h4.25v5.32h-4.25zM163.83,566.21h8.00v5.32h-8.00zM111.36,571.02h4.25v5.32h-4.25zM163.83,571.02h8.00v5.32h-8.00zM126.35,580.66h4.25v5.32h-4.25zM163.83,580.66h8.00v5.32h-8.00zM145.09,585.47h4.25v5.32h-4.25zM163.83,585.47h4.25v5.32h-4.25zM137.59,590.29h4.25v5.32h-4.25zM122.60,628.83h4.25v5.32h-4.25zM111.36,648.10h4.25v5.32h-4.25z"/>
<path fill="#f0f010" d="M156.33,402.42h4.25v5.32h-4.25zM178.82,402.42h4.25v5.32h-4.25zM145.09,407.24h4.25v5.32h-4.25zM171.32,407.24h8.00v5.32h-8.00zM141.34,412.05h4.25v5.32h-4.25zM163.83,416.87h4.25v5.32h-4.25zM137.59,426.51h4.25v5.32h-4.25zM137.59,431.32h4.25v5.32h-4.25zM145.09,436.14h4.25v5.32h-4.25zM133.85,440.96h4.25v5.32h-4.25zM70.14,445.77h4.25v5.32h-4.25zM126.35,445.77h8.00v5.32h-8.00zM70.14,450.59h4.25v5.32h-4.25zM70.14,455.41h4.25v5.32h-4.25zM107.61,455.41h4.25v5.32h-4.25zM118.86,455.41h4.25v5.32h-4.25zM73.89,460.23h4.25v5.32h-4.25zM81.38,460.23h4.25v5.32h-4.25zM88.88,460.23h8.00v5.32h-8.00zM141.34,460.23h4.25v5.32h-4.25zM77.63,465.04h4.25v5.32h-4.25zM88.88,465.04h4.25v5.32h-4.25zM111.36,465.04h8.00v5.32h-8.00zM96.37,469.86h4.25v5.32h-4.25zM92.62,474.68h4.25v5.32h-4.25zM126.35,474.68h4.25v5.32h-4.25zM70.14,479.49h4.25v5.32h-4.25zM81.38,479.49h4.25v5.32h-4.25zM88.88,484.31h4.25v5.32h-4.25zM73.89,489.13h15.49v5.32h-15.49zM66.39,493.95h4.25v5.32h-4.25zM100.12,493.95h4.25v5.32h-4.25zM62.64,503.58h4.25v5.32h-4.25zM88.88,503.58h11.74v5.32h-11.74zM85.13,513.22h4.25v5.32h-4.25zM92.62,532.48h8.00v5.32h-8.00zM92.62,537.30h8.00v5.32h-8.00zM92.62,542.12h4.25v5.32h-4.25zM92.62,546.94h11.74v5.32h-11.74zM137.59,546.94h4.25v5.32h-4.25zM88.88,556.57h4.25v5.32h-4.25zM96.37,556.57h4.25v5.32h-4.25zM152.58,556.57h4.25v5.32h-4.25zM156.33,561.39h4.25v5.32h-4.25zM171.32,566.21h4.25v5.32h-4.25zM115.11,571.02h4.25v5.32h-4.25zM137.59,571.02h4.25v5.32h-4.25zM171.32,571.02h4.25v5.32h-4.25zM111.36,575.84h11.74v5.32h-11.74zM137.59,575.84h4.25v5.32h-4.25zM130.10,580.66h4.25v5.32h-4.25zM107.61,585.47h4.25v5.32h-4.25zM122.60,585.47h4.25v5.32h-4.25zM152.58,585.47h4.25v5.32h-4.25zM107.61,595.11h8.00v5.32h-8.00zM88.88,609.56h4.25v5.32h-4.25z"/>
<path fill="#c0ff38" d="M171.32,387.97h4.25v5.32h-4.25zM137.59,392.78h8.00v5.32h-8.00zM163.83,392.78h8.00v5.32h-8.00zM156.33,397.60h4.25v5.32h-4.25zM145.09,402.42h11.74v5.32h-11.74zM171.32,412.05h8.00v5.32h-8.00zM160.08,421.69h4.25v5.32h-4.25zM130.10,436.14h4.25v5.32h-4.25zM122.60,440.96h4.25v5.32h-4.25zM58.90,445.77h8.00v5.32h-8.00zM62.64,450.59h4.25v5.32h-4.25zM77.63,450.59h4.25v5.32h-4.25zM115.11,450.59h8.00v5.32h-8.00zM133.85,450.59h8.00v5.32h-8.00zM122.60,460.23h4.25v5.32h-4.25zM137.59,460.23h4.25v5.32h-4.25zM103.87,465.04h8.00v5.32h-8.00zM73.89,469.86h4.25v5.32h-4.25zM92.62,469.86h4.25v5.32h-4.25zM77.63,474.68h4.25v5.32h-4.25zM77.63,479.49h4.25v5.32h-4.25zM126.35,479.49h4.25v5.32h-4.25zM73.89,484.31h4.25v5.32h-4.25zM58.90,498.76h4.25v5.32h-4.25zM88.88,498.76h4.25v5.32h-4.25zM85.13,508.40h4.25v5.32h-4.25zM88.88,513.22h4.25v5.32h-4.25zM92.62,522.85h8.00v5.32h-8.00zM100.12,527.67h4.25v5.32h-4.25zM85.13,532.48h8.00v5.32h-8.00zM73.89,537.30h4.25v5.32h-4.25zM85.13,537.30h4.25v5.32h-4.25zM96.37,542.12h8.00v5.32h-8.00zM88.88,546.94h4.25v5.32h-4.25zM88.88,551.75h4.25v5.32h-4.25zM156.33,566.21h8.00v5.32h-8.00zM118.86,571.02h8.00v5.32h-8.00zM156.33,571.02h4.25v5.32h-4.25zM145.09,575.84h4.25v5.32h-4.25zM160.08,575.84h11.74v5.32h-11.74zM133.85,580.66h4.25v5.32h-4.25zM152.58,580.66h11.74v5.32h-11.74zM148.84,585.47h4.25v5.32h-4.25zM107.61,590.29h8.00v5.32h-8.00z"/>
<path fill="#80ff78" d="M160.08,392.78h4.25v5.32h-4.25zM152.58,397.60h4.25v5.32h-4.25zM122.60,445.77h4.25v5.32h-4.25zM126.35,455.41h4.25v5.32h-4.25zM133.85,455.41h4.25v5.32h-4.25zM126.35,460.23h4.25v5.32h-4.25zM133.85,460.23h4.25v5.32h-4.25zM77.63,469.86h4.25v5.32h-4.25zM73.89,474.68h4.25v5.32h-4.25zM96.37,493.95h4.25v5.32h-4.25zM96.37,498.76h4.25v5.32h-4.25zM88.88,542.12h4.25v5.32h-4.25zM148.84,566.21h8.00v5.32h-8.00zM148.84,571.02h8.00v5.32h-8.00zM160.08,571.02h4.25v5.32h-4.25zM148.84,575.84h4.25v5.32h-4.25zM137.59,580.66h4.25v5.32h-4.25z"/>
<path fill="#48ffb0" d="M148.84,387.97h8.00v5.32h-8.00zM145.09,392.78h15.49v5.32h-15.49zM145.09,397.60h8.00v5.32h-8.00zM73.89,445.77h4.25v5.32h-4.25zM118.86,445.77h4.25v5.32h-4.25zM73.89,450.59h4.25v5.32h-4.25zM122.60,450.59h11.74v5.32h-11.74zM130.10,455.41h4.25v5.32h-4.25zM103.87,460.23h4.25v5.32h-4.25zM130.10,460.23h4.25v5.32h-4.25zM92.62,465.04h4.25v5.32h-4.25zM88.88,469.86h4.25v5.32h-4.25zM77.63,484.31h8.00v5.32h-8.00zM92.62,493.95h4.25v5.32h-4.25zM55.15,498.76h4.25v5.32h-4.25zM92.62,498.76h4.25v5.32h-4.25zM88.88,527.67h4.25v5.32h-4.25zM96.37,527.67h4.25v5.32h-4.25zM88.88,537.30h4.25v5.32h-4.25zM141.34,566.21h8.00v5.32h-8.00zM141.34,571.02h8.00v5.32h-8.00zM152.58,575.84h4.25v5.32h-4.25zM145.09,580.66h8.00v5.32h-8.00z"/>
<path fill="#18f0e0" d="M148.84,383.15h8.00v5.32h-8.00zM163.83,387.97h4.25v5.32h-4.25zM73.89,479.49h4.25v5.32h-4.25zM85.13,484.31h4.25v5.32h-4.25zM51.40,498.76h4.25v5.32h-4.25zM107.61,527.67h4.25v5.32h-4.25zM111.36,537.30h4.25v5.32h-4.25zM141.34,575.84h4.25v5.32h-4.25zM141.34,580.66h4.25v5.32h-4.25z"/>
<path fill="#00c0ff" d="M160.08,387.97h4.25v5.32h-4.25zM156.33,575.84h4.25v5.32h-4.25z"/>
<path fill="#0080ff" d="M156.33,387.97h4.25v5.32h-4.25zM77.63,445.77h4.25v5.32h-4.25zM92.62,527.67h4.25v5.32h-4.25z"/>
</g>
<rect x="51.65" y="383.4" width="153.65" height="279.4" fill="none" stroke="#111" stroke-width="0.9"/>
<line x1="53.5" y1="662.8" x2="53.5" y2="666.4" stroke="#111" stroke-width="0.9"/><text class="l" x="53.1" y="678.0" text-anchor="middle">−1.5</text>
<line x1="91.0" y1="662.8" x2="91.0" y2="666.4" stroke="#111" stroke-width="0.9"/><text class="l" x="90.6" y="678.0" text-anchor="middle">−1.0</text>
<line x1="128.5" y1="662.8" x2="128.5" y2="666.4" stroke="#111" stroke-width="0.9"/><text class="l" x="128.1" y="678.0" text-anchor="middle">−0.5</text>
<line x1="166.0" y1="662.8" x2="166.0" y2="666.4" stroke="#111" stroke-width="0.9"/><text class="l" x="165.6" y="678.0" text-anchor="middle">0.0</text>
<line x1="203.4" y1="662.8" x2="203.4" y2="666.4" stroke="#111" stroke-width="0.9"/><text class="l" x="203.0" y="678.0" text-anchor="middle">0.5</text>
<line x1="48.05" y1="650.8" x2="51.65" y2="650.8" stroke="#111" stroke-width="0.9"/><text class="l" x="43.9" y="654.9" text-anchor="end">38.0</text>
<line x1="48.05" y1="602.6" x2="51.65" y2="602.6" stroke="#111" stroke-width="0.9"/><text class="l" x="43.9" y="606.7" text-anchor="end">38.5</text>
<line x1="48.05" y1="554.4" x2="51.65" y2="554.4" stroke="#111" stroke-width="0.9"/><text class="l" x="43.9" y="558.5" text-anchor="end">39.0</text>
<line x1="48.05" y1="506.2" x2="51.65" y2="506.2" stroke="#111" stroke-width="0.9"/><text class="l" x="43.9" y="510.3" text-anchor="end">39.5</text>
<line x1="48.05" y1="458.1" x2="51.65" y2="458.1" stroke="#111" stroke-width="0.9"/><text class="l" x="43.9" y="462.2" text-anchor="end">40.0</text>
<line x1="48.05" y1="409.9" x2="51.65" y2="409.9" stroke="#111" stroke-width="0.9"/><text class="l" x="43.9" y="414.0" text-anchor="end">40.5</text>
<text class="t" x="127.9" y="377.5" text-anchor="middle">2016 anomalies</text>
<text class="a" x="128.5" y="691.8" text-anchor="middle">longitude [degrees_east]</text>
<text class="a" transform="translate(15.0,523.1) rotate(-90)" text-anchor="middle">latitude [degrees_north]</text>
<rect x="215.8" y="396.0" width="14.0" height="266.2" fill="url(#jet)"/><path d="M215.8,396.2 L222.8,382.79999999999995 L229.8,396.2 Z" fill="#800000"/><path d="M215.8,396.0 L222.8,382.79999999999995 L229.8,396.0 L229.8,662.2 L215.8,662.2 Z" fill="none" stroke="#111" stroke-width="0.9" stroke-linejoin="miter"/>
<line x1="229.8" y1="421.8" x2="233.4" y2="421.8" stroke="#111" stroke-width="0.9"/><text class="l" x="237.4" y="426.1">0.6</text>
<line x1="229.8" y1="457.7" x2="233.4" y2="457.7" stroke="#111" stroke-width="0.9"/><text class="l" x="237.4" y="462.0">0.4</text>
<line x1="229.8" y1="493.5" x2="233.4" y2="493.5" stroke="#111" stroke-width="0.9"/><text class="l" x="237.4" y="497.8">0.2</text>
<line x1="229.8" y1="529.3" x2="233.4" y2="529.3" stroke="#111" stroke-width="0.9"/><text class="l" x="237.4" y="533.6">0.0</text>
<line x1="229.8" y1="565.1" x2="233.4" y2="565.1" stroke="#111" stroke-width="0.9"/><text class="l" x="237.4" y="569.4">−0.2</text>
<line x1="229.8" y1="600.9" x2="233.4" y2="600.9" stroke="#111" stroke-width="0.9"/><text class="l" x="237.4" y="605.2">−0.4</text>
<line x1="229.8" y1="636.8" x2="233.4" y2="636.8" stroke="#111" stroke-width="0.9"/><text class="l" x="237.4" y="641.1">−0.6</text>
</g>
<g>
<g filter="url(#soft)">
<path fill="#41434b" d="M432.14,382.63h8.81v6.07h-8.81zM432.14,387.45h20.05v6.07h-20.05zM454.62,387.45h16.30v6.07h-16.30zM420.89,392.26h50.03v6.07h-50.03zM428.39,397.08h53.78v6.07h-53.78zM428.39,401.90h53.78v6.07h-53.78zM428.39,406.72h59.21v6.07h-59.21zM487.23,412.30L487.60,412.30L487.23,416.64zM424.64,411.53h62.58v6.07h-62.58zM480.29,417.12L487.23,417.12L480.29,421.46zM424.64,416.35h55.65v6.07h-55.65zM476.55,421.94L480.29,421.94L476.55,426.27zM424.64,421.17h51.90v6.07h-51.90zM475.42,426.76L476.55,426.76L475.42,431.09zM420.89,425.98h54.53v6.07h-54.53zM470.92,431.57L475.42,431.57L470.92,435.91zM417.15,430.80h53.78v6.07h-53.78zM467.18,436.39L470.92,436.39L467.18,440.73zM349.69,435.62h5.06v6.07h-5.06zM405.90,435.62h61.27v6.07h-61.27zM463.43,441.21L467.18,441.21L463.43,445.54zM349.69,440.44h5.06v6.07h-5.06zM405.90,440.44h57.53v6.07h-57.53zM459.68,446.02L463.43,446.02L459.68,450.36zM342.20,445.25h23.80v6.07h-23.80zM402.16,445.25h57.53v6.07h-57.53zM455.93,450.84L459.68,450.84L455.93,455.18zM345.94,450.07h23.80v6.07h-23.80zM398.41,450.07h57.53v6.07h-57.53zM452.19,455.66L455.93,455.66L452.19,459.99zM353.44,454.89h5.06v6.07h-5.06zM390.91,454.89h61.27v6.07h-61.27zM357.19,459.71h23.80v6.07h-23.80zM387.17,459.71h65.02v6.07h-65.02zM444.69,465.29L452.19,465.29L444.69,469.63zM360.93,464.52h20.05v6.07h-20.05zM387.17,464.52h57.53v6.07h-57.53zM357.19,469.34h87.51v6.07h-87.51zM440.94,474.93L444.69,474.93L440.94,479.26zM357.19,474.16h83.76v6.07h-83.76zM437.20,479.74L440.94,479.74L437.20,484.08zM353.44,478.97h83.76v6.07h-83.76zM434.01,484.56L437.20,484.56L434.01,488.90zM353.44,483.79h80.57v6.07h-80.57zM342.20,488.61h91.82v6.07h-91.82zM430.26,494.20L434.01,494.20L430.26,498.53zM338.45,493.43h91.82v6.07h-91.82zM426.52,499.01L430.26,499.01L426.52,503.35zM334.70,498.24h91.82v6.07h-91.82zM334.70,503.06h91.82v6.07h-91.82zM334.70,507.88h91.82v6.07h-91.82zM334.70,512.69h91.82v6.07h-91.82zM345.94,517.51h80.57v6.07h-80.57zM360.93,522.33h65.58v6.07h-65.58zM360.93,527.15h68.96v6.07h-68.96zM360.93,531.96h72.70v6.07h-72.70zM357.19,536.78h76.45v6.07h-76.45zM353.44,541.60h80.57v6.07h-80.57zM353.44,546.42h84.32v6.07h-84.32zM357.19,551.23h80.57v6.07h-80.57zM360.93,556.05h80.57v6.07h-80.57zM379.67,560.87h65.58v6.07h-65.58zM379.67,565.68h80.01v6.07h-80.01zM379.67,570.50h84.69v6.07h-84.69zM375.92,575.32h89.94v6.07h-89.94zM464.37,580.91L465.87,580.91L464.37,585.24zM379.67,580.14h84.69v6.07h-84.69zM456.87,585.72L464.37,585.72L456.87,590.06zM372.18,584.95h84.69v6.07h-84.69zM446.75,590.54L456.87,590.54L446.75,594.88zM372.18,589.77h74.58v6.07h-74.58zM443.00,595.36L446.75,595.36L443.00,599.69zM372.18,594.59h70.83v6.07h-70.83zM428.01,600.18L443.00,600.18L428.01,604.51zM372.18,599.41h55.84v6.07h-55.84zM424.27,604.99L428.01,604.99L424.27,609.33zM368.43,604.22h55.84v6.07h-55.84zM420.52,609.81L424.27,609.81L420.52,614.15zM368.43,609.04h52.09v6.07h-52.09zM415.27,614.63L420.52,614.63L415.27,618.96zM368.43,613.86h46.84v6.07h-46.84zM407.78,619.44L415.27,619.44L407.78,623.78zM374.80,618.67h32.98v6.07h-32.98zM374.80,623.49h36.73v6.07h-36.73zM374.80,628.31h36.73v6.07h-36.73zM404.03,633.90L411.53,633.90L404.03,638.23zM371.05,633.13h32.98v6.07h-32.98zM400.28,638.71L404.03,638.71L400.28,643.05zM371.05,637.94h29.23v6.07h-29.23zM375.92,642.76h24.36v6.07h-24.36zM375.92,647.58h24.36v6.07h-24.36zM396.54,653.17L400.28,653.17L396.54,657.50zM379.67,652.39h16.86v6.07h-16.86zM392.79,657.98L396.54,657.98L392.79,662.32zM383.42,657.21h9.37v6.07h-9.37zM339.95,444.58L350.44,444.82L354.94,445.06L363.93,445.78L368.43,451.80L363.56,455.42L357.75,456.38L357.56,460.72L353.81,460.72L353.81,456.38L345.19,455.42L343.69,450.84z"/>
<path fill="#800000" d="M443.88,387.97h8.00v5.32h-8.00zM455.12,387.97h15.49v5.32h-15.49zM421.39,392.78h8.00v5.32h-8.00zM440.13,392.78h30.48v5.32h-30.48zM440.13,397.60h30.48v5.32h-30.48zM440.13,402.42h15.49v5.32h-15.49zM432.64,407.24h19.24v5.32h-19.24zM428.89,412.05h22.99v5.32h-22.99zM428.89,416.87h4.25v5.32h-4.25zM440.13,416.87h8.00v5.32h-8.00zM473.86,416.87h4.25v5.32h-4.25zM443.88,421.69h4.25v5.32h-4.25zM342.70,445.77h4.25v5.32h-4.25zM365.18,450.59h4.25v5.32h-4.25z"/>
<path fill="#b40000" d="M440.13,387.97h4.25v5.32h-4.25zM470.11,397.60h8.00v5.32h-8.00zM455.12,402.42h4.25v5.32h-4.25zM451.37,407.24h4.25v5.32h-4.25zM477.61,412.05h4.25v5.32h-4.25zM432.64,416.87h8.00v5.32h-8.00zM451.37,416.87h4.25v5.32h-4.25zM428.89,421.69h4.25v5.32h-4.25zM436.38,421.69h4.25v5.32h-4.25zM451.37,421.69h4.25v5.32h-4.25zM470.11,421.69h4.25v5.32h-4.25zM470.11,426.51h4.25v5.32h-4.25zM425.14,431.32h4.25v5.32h-4.25zM466.36,431.32h4.25v5.32h-4.25zM350.19,436.14h4.25v5.32h-4.25zM425.14,436.14h4.25v5.32h-4.25zM361.43,445.77h4.25v5.32h-4.25zM451.37,445.77h8.00v5.32h-8.00zM357.69,450.59h8.00v5.32h-8.00zM451.37,450.59h4.25v5.32h-4.25zM376.42,460.23h4.25v5.32h-4.25zM447.63,460.23h4.25v5.32h-4.25zM383.92,469.86h8.00v5.32h-8.00zM440.13,469.86h4.25v5.32h-4.25zM436.38,474.68h4.25v5.32h-4.25zM432.64,479.49h4.25v5.32h-4.25zM428.89,489.13h4.25v5.32h-4.25zM458.87,580.66h4.25v5.32h-4.25zM443.88,585.47h8.00v5.32h-8.00z"/>
<path fill="#ec1000" d="M432.64,383.15h8.00v5.32h-8.00zM432.64,387.97h8.00v5.32h-8.00zM428.89,392.78h11.74v5.32h-11.74zM432.64,397.60h8.00v5.32h-8.00zM477.61,397.60h4.25v5.32h-4.25zM436.38,402.42h4.25v5.32h-4.25zM458.87,402.42h4.25v5.32h-4.25zM428.89,407.24h4.25v5.32h-4.25zM466.36,407.24h4.25v5.32h-4.25zM481.35,407.24h4.25v5.32h-4.25zM425.14,412.05h4.25v5.32h-4.25zM451.37,412.05h4.25v5.32h-4.25zM466.36,412.05h11.74v5.32h-11.74zM481.35,412.05h4.25v5.32h-4.25zM425.14,416.87h4.25v5.32h-4.25zM447.63,416.87h4.25v5.32h-4.25zM466.36,416.87h8.00v5.32h-8.00zM425.14,421.69h4.25v5.32h-4.25zM432.64,421.69h4.25v5.32h-4.25zM440.13,421.69h4.25v5.32h-4.25zM447.63,421.69h4.25v5.32h-4.25zM466.36,421.69h4.25v5.32h-4.25zM421.39,426.51h11.74v5.32h-11.74zM443.88,426.51h8.00v5.32h-8.00zM466.36,426.51h4.25v5.32h-4.25zM428.89,431.32h4.25v5.32h-4.25zM417.65,436.14h8.00v5.32h-8.00zM462.62,436.14h4.25v5.32h-4.25zM350.19,440.96h4.25v5.32h-4.25zM458.87,440.96h4.25v5.32h-4.25zM346.44,445.77h4.25v5.32h-4.25zM353.94,445.77h4.25v5.32h-4.25zM350.19,450.59h8.00v5.32h-8.00zM353.94,455.41h4.25v5.32h-4.25zM447.63,455.41h4.25v5.32h-4.25zM357.69,460.23h15.49v5.32h-15.49zM387.67,460.23h4.25v5.32h-4.25zM365.18,465.04h8.00v5.32h-8.00zM376.42,465.04h4.25v5.32h-4.25zM387.67,465.04h4.25v5.32h-4.25zM365.18,469.86h8.00v5.32h-8.00zM380.17,469.86h4.25v5.32h-4.25zM391.41,469.86h4.25v5.32h-4.25zM380.17,474.68h4.25v5.32h-4.25zM391.41,474.68h8.00v5.32h-8.00zM425.14,493.95h4.25v5.32h-4.25zM428.89,532.48h4.25v5.32h-4.25zM383.92,561.39h4.25v5.32h-4.25zM410.15,575.84h4.25v5.32h-4.25zM402.66,580.66h4.25v5.32h-4.25zM455.12,580.66h4.25v5.32h-4.25zM402.66,585.47h4.25v5.32h-4.25zM451.37,585.47h4.25v5.32h-4.25zM421.39,599.93h4.25v5.32h-4.25zM417.65,604.74h4.25v5.32h-4.25zM402.66,628.83h4.25v5.32h-4.25zM398.91,633.65h4.25v5.32h-4.25z"/>
<path fill="#ff5900" d="M428.89,397.60h4.25v5.32h-4.25zM432.64,402.42h4.25v5.32h-4.25zM462.62,402.42h15.49v5.32h-15.49zM462.62,407.24h4.25v5.32h-4.25zM470.11,407.24h8.00v5.32h-8.00zM462.62,412.05h4.25v5.32h-4.25zM455.12,416.87h11.74v5.32h-11.74zM455.12,421.69h4.25v5.32h-4.25zM462.62,421.69h4.25v5.32h-4.25zM440.13,426.51h4.25v5.32h-4.25zM417.65,431.32h4.25v5.32h-4.25zM406.40,436.14h11.74v5.32h-11.74zM458.87,436.14h4.25v5.32h-4.25zM350.19,445.77h4.25v5.32h-4.25zM447.63,450.59h4.25v5.32h-4.25zM413.90,460.23h4.25v5.32h-4.25zM372.68,465.04h4.25v5.32h-4.25zM376.42,469.86h4.25v5.32h-4.25zM365.18,474.68h15.49v5.32h-15.49zM383.92,474.68h4.25v5.32h-4.25zM376.42,508.40h8.00v5.32h-8.00zM376.42,513.22h8.00v5.32h-8.00zM368.93,522.85h8.00v5.32h-8.00zM380.17,532.48h4.25v5.32h-4.25zM380.17,537.30h4.25v5.32h-4.25zM380.17,561.39h4.25v5.32h-4.25zM387.67,575.84h4.25v5.32h-4.25zM406.40,575.84h4.25v5.32h-4.25zM406.40,580.66h4.25v5.32h-4.25zM395.16,585.47h8.00v5.32h-8.00zM436.38,595.11h4.25v5.32h-4.25zM410.15,614.38h4.25v5.32h-4.25z"/>
<path fill="#ff9400" d="M428.89,402.42h4.25v5.32h-4.25zM455.12,407.24h8.00v5.32h-8.00zM477.61,407.24h4.25v5.32h-4.25zM455.12,412.05h8.00v5.32h-8.00zM458.87,421.69h4.25v5.32h-4.25zM436.38,426.51h4.25v5.32h-4.25zM451.37,426.51h15.49v5.32h-15.49zM421.39,431.32h4.25v5.32h-4.25zM443.88,431.32h4.25v5.32h-4.25zM455.12,431.32h4.25v5.32h-4.25zM462.62,431.32h4.25v5.32h-4.25zM428.89,436.14h4.25v5.32h-4.25zM443.88,436.14h4.25v5.32h-4.25zM455.12,436.14h4.25v5.32h-4.25zM406.40,440.96h19.24v5.32h-19.24zM443.88,440.96h4.25v5.32h-4.25zM451.37,440.96h8.00v5.32h-8.00zM357.69,445.77h4.25v5.32h-4.25zM413.90,445.77h8.00v5.32h-8.00zM447.63,445.77h4.25v5.32h-4.25zM346.44,450.59h4.25v5.32h-4.25zM402.66,455.41h11.74v5.32h-11.74zM372.68,460.23h4.25v5.32h-4.25zM391.41,460.23h8.00v5.32h-8.00zM417.65,460.23h11.74v5.32h-11.74zM361.43,465.04h4.25v5.32h-4.25zM391.41,465.04h4.25v5.32h-4.25zM440.13,465.04h4.25v5.32h-4.25zM357.69,469.86h8.00v5.32h-8.00zM395.16,469.86h8.00v5.32h-8.00zM387.67,474.68h4.25v5.32h-4.25zM398.91,474.68h8.00v5.32h-8.00zM368.93,479.49h11.74v5.32h-11.74zM391.41,479.49h4.25v5.32h-4.25zM402.66,479.49h8.00v5.32h-8.00zM361.43,493.95h4.25v5.32h-4.25zM368.93,493.95h4.25v5.32h-4.25zM383.92,498.76h4.25v5.32h-4.25zM338.95,503.58h8.00v5.32h-8.00zM372.68,503.58h4.25v5.32h-4.25zM383.92,503.58h4.25v5.32h-4.25zM335.20,508.40h8.00v5.32h-8.00zM368.93,508.40h8.00v5.32h-8.00zM346.44,513.22h15.49v5.32h-15.49zM361.43,518.03h19.24v5.32h-19.24zM361.43,522.85h4.25v5.32h-4.25zM387.67,522.85h4.25v5.32h-4.25zM361.43,527.67h4.25v5.32h-4.25zM361.43,532.48h4.25v5.32h-4.25zM376.42,532.48h4.25v5.32h-4.25zM383.92,532.48h4.25v5.32h-4.25zM376.42,537.30h4.25v5.32h-4.25zM383.92,537.30h4.25v5.32h-4.25zM353.94,542.12h4.25v5.32h-4.25zM376.42,542.12h11.74v5.32h-11.74zM353.94,546.94h4.25v5.32h-4.25zM368.93,551.75h4.25v5.32h-4.25zM368.93,556.57h4.25v5.32h-4.25zM376.42,556.57h15.49v5.32h-15.49zM410.15,571.02h4.25v5.32h-4.25zM383.92,575.84h4.25v5.32h-4.25zM391.41,575.84h4.25v5.32h-4.25zM428.89,575.84h4.25v5.32h-4.25zM458.87,575.84h4.25v5.32h-4.25zM395.16,580.66h8.00v5.32h-8.00zM410.15,580.66h4.25v5.32h-4.25zM387.67,585.47h8.00v5.32h-8.00zM421.39,585.47h15.49v5.32h-15.49zM395.16,590.29h8.00v5.32h-8.00zM406.40,590.29h8.00v5.32h-8.00zM406.40,624.01h4.25v5.32h-4.25zM398.91,628.83h4.25v5.32h-4.25zM391.41,652.92h4.25v5.32h-4.25z"/>
<path fill="#ffc800" d="M477.61,402.42h4.25v5.32h-4.25zM432.64,426.51h4.25v5.32h-4.25zM447.63,431.32h8.00v5.32h-8.00zM458.87,431.32h4.25v5.32h-4.25zM425.14,440.96h4.25v5.32h-4.25zM440.13,440.96h4.25v5.32h-4.25zM447.63,440.96h4.25v5.32h-4.25zM402.66,445.77h4.25v5.32h-4.25zM443.88,445.77h4.25v5.32h-4.25zM443.88,450.59h4.25v5.32h-4.25zM398.91,455.41h4.25v5.32h-4.25zM398.91,460.23h4.25v5.32h-4.25zM410.15,460.23h4.25v5.32h-4.25zM413.90,465.04h15.49v5.32h-15.49zM372.68,469.86h4.25v5.32h-4.25zM436.38,469.86h4.25v5.32h-4.25zM357.69,474.68h8.00v5.32h-8.00zM432.64,474.68h4.25v5.32h-4.25zM365.18,479.49h4.25v5.32h-4.25zM387.67,479.49h4.25v5.32h-4.25zM395.16,479.49h4.25v5.32h-4.25zM410.15,479.49h4.25v5.32h-4.25zM357.69,484.31h4.25v5.32h-4.25zM357.69,489.13h4.25v5.32h-4.25zM365.18,503.58h8.00v5.32h-8.00zM380.17,503.58h4.25v5.32h-4.25zM387.67,503.58h4.25v5.32h-4.25zM365.18,508.40h4.25v5.32h-4.25zM365.18,513.22h11.74v5.32h-11.74zM357.69,518.03h4.25v5.32h-4.25zM365.18,522.85h4.25v5.32h-4.25zM368.93,527.67h8.00v5.32h-8.00zM372.68,546.94h11.74v5.32h-11.74zM357.69,551.75h4.25v5.32h-4.25zM372.68,551.75h15.49v5.32h-15.49zM372.68,556.57h4.25v5.32h-4.25zM391.41,566.21h4.25v5.32h-4.25zM387.67,571.02h8.00v5.32h-8.00zM413.90,575.84h4.25v5.32h-4.25zM380.17,580.66h8.00v5.32h-8.00zM391.41,580.66h4.25v5.32h-4.25zM436.38,580.66h4.25v5.32h-4.25zM406.40,585.47h15.49v5.32h-15.49zM413.90,590.29h4.25v5.32h-4.25zM432.64,590.29h4.25v5.32h-4.25zM391.41,595.11h15.49v5.32h-15.49zM432.64,595.11h4.25v5.32h-4.25zM380.17,619.19h4.25v5.32h-4.25zM387.67,657.73h4.25v5.32h-4.25z"/>
<path fill="#f0f010" d="M432.64,431.32h11.74v5.32h-11.74zM432.64,436.14h4.25v5.32h-4.25zM447.63,436.14h8.00v5.32h-8.00zM428.89,440.96h4.25v5.32h-4.25zM436.38,440.96h4.25v5.32h-4.25zM406.40,445.77h8.00v5.32h-8.00zM421.39,445.77h4.25v5.32h-4.25zM436.38,445.77h8.00v5.32h-8.00zM398.91,450.59h22.99v5.32h-22.99zM436.38,450.59h8.00v5.32h-8.00zM395.16,455.41h4.25v5.32h-4.25zM413.90,455.41h8.00v5.32h-8.00zM402.66,460.23h8.00v5.32h-8.00zM443.88,460.23h4.25v5.32h-4.25zM395.16,465.04h19.24v5.32h-19.24zM428.89,465.04h4.25v5.32h-4.25zM402.66,469.86h8.00v5.32h-8.00zM406.40,474.68h4.25v5.32h-4.25zM361.43,479.49h4.25v5.32h-4.25zM380.17,479.49h8.00v5.32h-8.00zM398.91,479.49h4.25v5.32h-4.25zM361.43,484.31h4.25v5.32h-4.25zM372.68,484.31h4.25v5.32h-4.25zM342.70,489.13h8.00v5.32h-8.00zM361.43,489.13h15.49v5.32h-15.49zM365.18,493.95h4.25v5.32h-4.25zM365.18,498.76h11.74v5.32h-11.74zM335.20,503.58h4.25v5.32h-4.25zM376.42,503.58h4.25v5.32h-4.25zM342.70,508.40h8.00v5.32h-8.00zM383.92,508.40h4.25v5.32h-4.25zM335.20,513.22h11.74v5.32h-11.74zM361.43,513.22h4.25v5.32h-4.25zM383.92,513.22h4.25v5.32h-4.25zM350.19,518.03h8.00v5.32h-8.00zM380.17,518.03h11.74v5.32h-11.74zM421.39,518.03h4.25v5.32h-4.25zM380.17,522.85h8.00v5.32h-8.00zM391.41,522.85h4.25v5.32h-4.25zM380.17,527.67h8.00v5.32h-8.00zM395.16,527.67h4.25v5.32h-4.25zM368.93,532.48h8.00v5.32h-8.00zM395.16,532.48h4.25v5.32h-4.25zM357.69,537.30h8.00v5.32h-8.00zM372.68,537.30h4.25v5.32h-4.25zM428.89,537.30h4.25v5.32h-4.25zM368.93,542.12h8.00v5.32h-8.00zM413.90,542.12h8.00v5.32h-8.00zM357.69,546.94h15.49v5.32h-15.49zM383.92,546.94h8.00v5.32h-8.00zM421.39,546.94h8.00v5.32h-8.00zM361.43,551.75h8.00v5.32h-8.00zM387.67,551.75h11.74v5.32h-11.74zM417.65,551.75h11.74v5.32h-11.74zM365.18,556.57h4.25v5.32h-4.25zM391.41,556.57h8.00v5.32h-8.00zM387.67,561.39h4.25v5.32h-4.25zM398.91,561.39h4.25v5.32h-4.25zM387.67,566.21h4.25v5.32h-4.25zM395.16,566.21h8.00v5.32h-8.00zM410.15,566.21h8.00v5.32h-8.00zM383.92,571.02h4.25v5.32h-4.25zM395.16,571.02h8.00v5.32h-8.00zM406.40,571.02h4.25v5.32h-4.25zM413.90,571.02h4.25v5.32h-4.25zM421.39,571.02h11.74v5.32h-11.74zM380.17,575.84h4.25v5.32h-4.25zM395.16,575.84h11.74v5.32h-11.74zM421.39,575.84h8.00v5.32h-8.00zM387.67,580.66h4.25v5.32h-4.25zM440.13,580.66h4.25v5.32h-4.25zM383.92,585.47h4.25v5.32h-4.25zM387.67,590.29h8.00v5.32h-8.00zM402.66,590.29h4.25v5.32h-4.25zM417.65,590.29h4.25v5.32h-4.25zM425.14,590.29h8.00v5.32h-8.00zM436.38,590.29h8.00v5.32h-8.00zM406.40,595.11h11.74v5.32h-11.74zM425.14,595.11h8.00v5.32h-8.00zM383.92,619.19h4.25v5.32h-4.25zM391.41,643.28h4.25v5.32h-4.25zM391.41,648.10h8.00v5.32h-8.00zM383.92,657.73h4.25v5.32h-4.25z"/>
<path fill="#c0ff38" d="M436.38,436.14h8.00v5.32h-8.00zM432.64,440.96h4.25v5.32h-4.25zM425.14,445.77h11.74v5.32h-11.74zM421.39,450.59h15.49v5.32h-15.49zM391.41,455.41h4.25v5.32h-4.25zM421.39,455.41h22.99v5.32h-22.99zM428.89,460.23h15.49v5.32h-15.49zM436.38,465.04h4.25v5.32h-4.25zM410.15,469.86h4.25v5.32h-4.25zM410.15,474.68h4.25v5.32h-4.25zM357.69,479.49h4.25v5.32h-4.25zM413.90,479.49h4.25v5.32h-4.25zM428.89,479.49h4.25v5.32h-4.25zM365.18,484.31h4.25v5.32h-4.25zM376.42,484.31h4.25v5.32h-4.25zM428.89,484.31h4.25v5.32h-4.25zM376.42,489.13h4.25v5.32h-4.25zM383.92,489.13h4.25v5.32h-4.25zM342.70,493.95h8.00v5.32h-8.00zM372.68,493.95h4.25v5.32h-4.25zM335.20,498.76h4.25v5.32h-4.25zM346.44,498.76h11.74v5.32h-11.74zM376.42,498.76h8.00v5.32h-8.00zM387.67,498.76h4.25v5.32h-4.25zM350.19,508.40h4.25v5.32h-4.25zM361.43,508.40h4.25v5.32h-4.25zM387.67,508.40h4.25v5.32h-4.25zM387.67,513.22h8.00v5.32h-8.00zM421.39,513.22h4.25v5.32h-4.25zM346.44,518.03h4.25v5.32h-4.25zM391.41,518.03h4.25v5.32h-4.25zM417.65,518.03h4.25v5.32h-4.25zM376.42,522.85h4.25v5.32h-4.25zM395.16,522.85h4.25v5.32h-4.25zM365.18,527.67h4.25v5.32h-4.25zM387.67,527.67h4.25v5.32h-4.25zM398.91,527.67h4.25v5.32h-4.25zM365.18,532.48h4.25v5.32h-4.25zM387.67,532.48h8.00v5.32h-8.00zM398.91,532.48h4.25v5.32h-4.25zM365.18,537.30h8.00v5.32h-8.00zM387.67,537.30h4.25v5.32h-4.25zM398.91,537.30h4.25v5.32h-4.25zM413.90,537.30h8.00v5.32h-8.00zM357.69,542.12h11.74v5.32h-11.74zM387.67,542.12h4.25v5.32h-4.25zM421.39,542.12h4.25v5.32h-4.25zM391.41,546.94h15.49v5.32h-15.49zM413.90,546.94h8.00v5.32h-8.00zM428.89,546.94h4.25v5.32h-4.25zM398.91,551.75h8.00v5.32h-8.00zM413.90,551.75h4.25v5.32h-4.25zM428.89,551.75h4.25v5.32h-4.25zM361.43,556.57h4.25v5.32h-4.25zM398.91,556.57h8.00v5.32h-8.00zM421.39,556.57h11.74v5.32h-11.74zM391.41,561.39h8.00v5.32h-8.00zM402.66,561.39h4.25v5.32h-4.25zM425.14,561.39h8.00v5.32h-8.00zM380.17,566.21h4.25v5.32h-4.25zM402.66,566.21h8.00v5.32h-8.00zM417.65,566.21h4.25v5.32h-4.25zM402.66,571.02h4.25v5.32h-4.25zM417.65,571.02h4.25v5.32h-4.25zM432.64,571.02h4.25v5.32h-4.25zM417.65,575.84h4.25v5.32h-4.25zM432.64,575.84h4.25v5.32h-4.25zM455.12,575.84h4.25v5.32h-4.25zM413.90,580.66h4.25v5.32h-4.25zM428.89,580.66h8.00v5.32h-8.00zM443.88,580.66h11.74v5.32h-11.74zM372.68,585.47h11.74v5.32h-11.74zM436.38,585.47h8.00v5.32h-8.00zM372.68,590.29h4.25v5.32h-4.25zM383.92,590.29h4.25v5.32h-4.25zM421.39,590.29h4.25v5.32h-4.25zM372.68,595.11h4.25v5.32h-4.25zM387.67,595.11h4.25v5.32h-4.25zM417.65,595.11h8.00v5.32h-8.00zM372.68,599.93h4.25v5.32h-4.25zM391.41,599.93h11.74v5.32h-11.74zM417.65,599.93h4.25v5.32h-4.25zM376.42,609.56h4.25v5.32h-4.25zM413.90,609.56h4.25v5.32h-4.25zM376.42,614.38h4.25v5.32h-4.25zM406.40,614.38h4.25v5.32h-4.25zM376.42,619.19h4.25v5.32h-4.25zM376.42,624.01h4.25v5.32h-4.25zM406.40,628.83h4.25v5.32h-4.25zM387.67,638.46h8.00v5.32h-8.00zM387.67,643.28h4.25v5.32h-4.25zM395.16,643.28h4.25v5.32h-4.25zM387.67,648.10h4.25v5.32h-4.25zM380.17,652.92h11.74v5.32h-11.74z"/>
<path fill="#80ff78" d="M443.88,455.41h4.25v5.32h-4.25zM413.90,469.86h8.00v5.32h-8.00zM425.14,469.86h8.00v5.32h-8.00zM413.90,474.68h4.25v5.32h-4.25zM421.39,474.68h4.25v5.32h-4.25zM417.65,479.49h4.25v5.32h-4.25zM368.93,484.31h4.25v5.32h-4.25zM380.17,484.31h15.49v5.32h-15.49zM406.40,484.31h11.74v5.32h-11.74zM350.19,489.13h4.25v5.32h-4.25zM380.17,489.13h4.25v5.32h-4.25zM387.67,489.13h4.25v5.32h-4.25zM376.42,493.95h11.74v5.32h-11.74zM391.41,503.58h4.25v5.32h-4.25zM391.41,508.40h4.25v5.32h-4.25zM395.16,513.22h4.25v5.32h-4.25zM395.16,518.03h4.25v5.32h-4.25zM376.42,527.67h4.25v5.32h-4.25zM391.41,537.30h4.25v5.32h-4.25zM398.91,542.12h4.25v5.32h-4.25zM425.14,542.12h8.00v5.32h-8.00zM432.64,546.94h4.25v5.32h-4.25zM432.64,551.75h4.25v5.32h-4.25zM432.64,556.57h8.00v5.32h-8.00zM421.39,561.39h4.25v5.32h-4.25zM432.64,561.39h8.00v5.32h-8.00zM421.39,566.21h15.49v5.32h-15.49zM455.12,566.21h4.25v5.32h-4.25zM455.12,571.02h8.00v5.32h-8.00zM436.38,575.84h4.25v5.32h-4.25zM417.65,580.66h11.74v5.32h-11.74zM376.42,590.29h8.00v5.32h-8.00zM376.42,595.11h4.25v5.32h-4.25zM376.42,599.93h4.25v5.32h-4.25zM387.67,599.93h4.25v5.32h-4.25zM402.66,599.93h4.25v5.32h-4.25zM387.67,604.74h4.25v5.32h-4.25zM380.17,609.56h4.25v5.32h-4.25zM380.17,614.38h4.25v5.32h-4.25zM380.17,624.01h4.25v5.32h-4.25zM376.42,628.83h4.25v5.32h-4.25zM372.68,633.65h4.25v5.32h-4.25zM383.92,638.46h4.25v5.32h-4.25zM395.16,638.46h4.25v5.32h-4.25zM383.92,643.28h4.25v5.32h-4.25zM383.92,648.10h4.25v5.32h-4.25z"/>
<path fill="#48ffb0" d="M421.39,469.86h4.25v5.32h-4.25zM417.65,474.68h4.25v5.32h-4.25zM425.14,474.68h8.00v5.32h-8.00zM421.39,479.49h8.00v5.32h-8.00zM402.66,484.31h4.25v5.32h-4.25zM417.65,484.31h11.74v5.32h-11.74zM391.41,489.13h4.25v5.32h-4.25zM413.90,489.13h15.49v5.32h-15.49zM350.19,493.95h4.25v5.32h-4.25zM421.39,493.95h4.25v5.32h-4.25zM391.41,498.76h4.25v5.32h-4.25zM421.39,498.76h4.25v5.32h-4.25zM406.40,503.58h8.00v5.32h-8.00zM421.39,503.58h4.25v5.32h-4.25zM406.40,508.40h8.00v5.32h-8.00zM406.40,513.22h8.00v5.32h-8.00zM417.65,513.22h4.25v5.32h-4.25zM398.91,518.03h15.49v5.32h-15.49zM406.40,522.85h4.25v5.32h-4.25zM391.41,527.67h4.25v5.32h-4.25zM402.66,527.67h4.25v5.32h-4.25zM413.90,532.48h15.49v5.32h-15.49zM402.66,537.30h4.25v5.32h-4.25zM421.39,537.30h4.25v5.32h-4.25zM391.41,542.12h8.00v5.32h-8.00zM402.66,542.12h4.25v5.32h-4.25zM406.40,551.75h8.00v5.32h-8.00zM406.40,556.57h8.00v5.32h-8.00zM440.13,561.39h4.25v5.32h-4.25zM436.38,566.21h8.00v5.32h-8.00zM380.17,571.02h4.25v5.32h-4.25zM436.38,571.02h4.25v5.32h-4.25zM376.42,575.84h4.25v5.32h-4.25zM380.17,595.11h8.00v5.32h-8.00zM380.17,599.93h8.00v5.32h-8.00zM406.40,599.93h4.25v5.32h-4.25zM376.42,604.74h11.74v5.32h-11.74zM391.41,604.74h4.25v5.32h-4.25zM398.91,604.74h4.25v5.32h-4.25zM372.68,609.56h4.25v5.32h-4.25zM383.92,609.56h4.25v5.32h-4.25zM402.66,609.56h4.25v5.32h-4.25zM410.15,609.56h4.25v5.32h-4.25zM387.67,619.19h4.25v5.32h-4.25zM383.92,624.01h4.25v5.32h-4.25zM402.66,624.01h4.25v5.32h-4.25zM387.67,628.83h4.25v5.32h-4.25zM376.42,633.65h15.49v5.32h-15.49zM395.16,633.65h4.25v5.32h-4.25zM380.17,643.28h4.25v5.32h-4.25zM380.17,648.10h4.25v5.32h-4.25z"/>
<path fill="#18f0e0" d="M432.64,469.86h4.25v5.32h-4.25zM353.94,479.49h4.25v5.32h-4.25zM353.94,484.31h4.25v5.32h-4.25zM398.91,484.31h4.25v5.32h-4.25zM402.66,489.13h11.74v5.32h-11.74zM357.69,493.95h4.25v5.32h-4.25zM387.67,493.95h8.00v5.32h-8.00zM406.40,493.95h15.49v5.32h-15.49zM338.95,498.76h8.00v5.32h-8.00zM361.43,498.76h4.25v5.32h-4.25zM398.91,498.76h22.99v5.32h-22.99zM346.44,503.58h11.74v5.32h-11.74zM395.16,503.58h4.25v5.32h-4.25zM402.66,503.58h4.25v5.32h-4.25zM413.90,503.58h8.00v5.32h-8.00zM395.16,508.40h4.25v5.32h-4.25zM402.66,508.40h4.25v5.32h-4.25zM413.90,508.40h4.25v5.32h-4.25zM421.39,508.40h4.25v5.32h-4.25zM398.91,513.22h8.00v5.32h-8.00zM413.90,513.22h4.25v5.32h-4.25zM398.91,522.85h8.00v5.32h-8.00zM410.15,522.85h4.25v5.32h-4.25zM421.39,527.67h8.00v5.32h-8.00zM402.66,532.48h4.25v5.32h-4.25zM425.14,537.30h4.25v5.32h-4.25zM406.40,542.12h4.25v5.32h-4.25zM406.40,546.94h4.25v5.32h-4.25zM417.65,556.57h4.25v5.32h-4.25zM417.65,561.39h4.25v5.32h-4.25zM383.92,566.21h4.25v5.32h-4.25zM443.88,566.21h4.25v5.32h-4.25zM440.13,571.02h15.49v5.32h-15.49zM440.13,575.84h15.49v5.32h-15.49zM413.90,599.93h4.25v5.32h-4.25zM368.93,604.74h8.00v5.32h-8.00zM395.16,604.74h4.25v5.32h-4.25zM402.66,604.74h4.25v5.32h-4.25zM413.90,604.74h4.25v5.32h-4.25zM368.93,609.56h4.25v5.32h-4.25zM395.16,609.56h8.00v5.32h-8.00zM406.40,609.56h4.25v5.32h-4.25zM368.93,614.38h8.00v5.32h-8.00zM383.92,614.38h15.49v5.32h-15.49zM391.41,619.19h8.00v5.32h-8.00zM402.66,619.19h4.25v5.32h-4.25zM398.91,624.01h4.25v5.32h-4.25zM380.17,628.83h4.25v5.32h-4.25zM391.41,628.83h8.00v5.32h-8.00zM391.41,633.65h4.25v5.32h-4.25zM380.17,638.46h4.25v5.32h-4.25zM376.42,643.28h4.25v5.32h-4.25zM376.42,648.10h4.25v5.32h-4.25z"/>
<path fill="#00c0ff" d="M432.64,465.04h4.25v5.32h-4.25zM395.16,484.31h4.25v5.32h-4.25zM353.94,489.13h4.25v5.32h-4.25zM395.16,489.13h8.00v5.32h-8.00zM353.94,493.95h4.25v5.32h-4.25zM395.16,493.95h11.74v5.32h-11.74zM395.16,498.76h4.25v5.32h-4.25zM398.91,503.58h4.25v5.32h-4.25zM353.94,508.40h8.00v5.32h-8.00zM398.91,508.40h4.25v5.32h-4.25zM413.90,518.03h4.25v5.32h-4.25zM413.90,522.85h8.00v5.32h-8.00zM406.40,527.67h8.00v5.32h-8.00zM417.65,527.67h4.25v5.32h-4.25zM406.40,537.30h4.25v5.32h-4.25zM410.15,542.12h4.25v5.32h-4.25zM410.15,546.94h4.25v5.32h-4.25zM413.90,561.39h4.25v5.32h-4.25zM451.37,566.21h4.25v5.32h-4.25zM398.91,614.38h8.00v5.32h-8.00zM398.91,619.19h4.25v5.32h-4.25zM387.67,624.01h4.25v5.32h-4.25zM383.92,628.83h4.25v5.32h-4.25z"/>
<path fill="#0080ff" d="M357.69,503.58h8.00v5.32h-8.00zM413.90,527.67h4.25v5.32h-4.25zM406.40,532.48h8.00v5.32h-8.00zM410.15,537.30h4.25v5.32h-4.25zM413.90,556.57h4.25v5.32h-4.25zM410.15,561.39h4.25v5.32h-4.25zM447.63,566.21h4.25v5.32h-4.25zM410.15,599.93h4.25v5.32h-4.25zM406.40,604.74h8.00v5.32h-8.00zM387.67,609.56h8.00v5.32h-8.00zM391.41,624.01h4.25v5.32h-4.25zM372.68,638.46h8.00v5.32h-8.00z"/>
<path fill="#0030ff" d="M357.69,498.76h4.25v5.32h-4.25zM417.65,508.40h4.25v5.32h-4.25zM421.39,522.85h4.25v5.32h-4.25zM395.16,537.30h4.25v5.32h-4.25zM406.40,561.39h4.25v5.32h-4.25zM395.16,624.01h4.25v5.32h-4.25z"/>
</g>
<rect x="335.45" y="383.4" width="153.65" height="279.4" fill="none" stroke="#111" stroke-width="0.9"/>
<line x1="337.3" y1="662.8" x2="337.3" y2="666.4" stroke="#111" stroke-width="0.9"/><text class="l" x="336.9" y="678.0" text-anchor="middle">−1.5</text>
<line x1="374.8" y1="662.8" x2="374.8" y2="666.4" stroke="#111" stroke-width="0.9"/><text class="l" x="374.4" y="678.0" text-anchor="middle">−1.0</text>
<line x1="412.3" y1="662.8" x2="412.3" y2="666.4" stroke="#111" stroke-width="0.9"/><text class="l" x="411.9" y="678.0" text-anchor="middle">−0.5</text>
<line x1="449.8" y1="662.8" x2="449.8" y2="666.4" stroke="#111" stroke-width="0.9"/><text class="l" x="449.4" y="678.0" text-anchor="middle">0.0</text>
<line x1="487.2" y1="662.8" x2="487.2" y2="666.4" stroke="#111" stroke-width="0.9"/><text class="l" x="486.8" y="678.0" text-anchor="middle">0.5</text>
<line x1="331.84999999999997" y1="650.8" x2="335.45" y2="650.8" stroke="#111" stroke-width="0.9"/><text class="l" x="327.6" y="654.9" text-anchor="end">38.0</text>
<line x1="331.84999999999997" y1="602.6" x2="335.45" y2="602.6" stroke="#111" stroke-width="0.9"/><text class="l" x="327.6" y="606.7" text-anchor="end">38.5</text>
<line x1="331.84999999999997" y1="554.4" x2="335.45" y2="554.4" stroke="#111" stroke-width="0.9"/><text class="l" x="327.6" y="558.5" text-anchor="end">39.0</text>
<line x1="331.84999999999997" y1="506.2" x2="335.45" y2="506.2" stroke="#111" stroke-width="0.9"/><text class="l" x="327.6" y="510.3" text-anchor="end">39.5</text>
<line x1="331.84999999999997" y1="458.1" x2="335.45" y2="458.1" stroke="#111" stroke-width="0.9"/><text class="l" x="327.6" y="462.2" text-anchor="end">40.0</text>
<line x1="331.84999999999997" y1="409.9" x2="335.45" y2="409.9" stroke="#111" stroke-width="0.9"/><text class="l" x="327.6" y="414.0" text-anchor="end">40.5</text>
<text class="t" x="411.7" y="377.5" text-anchor="middle">2017 anomalies</text>
<text class="a" x="412.3" y="691.8" text-anchor="middle">longitude [degrees_east]</text>
<text class="a" transform="translate(298.8,523.1) rotate(-90)" text-anchor="middle">latitude [degrees_north]</text>
<rect x="499.4" y="396.0" width="14.0" height="266.2" fill="url(#jet)"/><path d="M499.4,396.2 L506.4,382.79999999999995 L513.4,396.2 Z" fill="#800000"/><path d="M499.4,396.0 L506.4,382.79999999999995 L513.4,396.0 L513.4,662.2 L499.4,662.2 Z" fill="none" stroke="#111" stroke-width="0.9" stroke-linejoin="miter"/>
<line x1="513.4" y1="421.8" x2="517.0" y2="421.8" stroke="#111" stroke-width="0.9"/><text class="l" x="521.0" y="426.1">0.6</text>
<line x1="513.4" y1="457.7" x2="517.0" y2="457.7" stroke="#111" stroke-width="0.9"/><text class="l" x="521.0" y="462.0">0.4</text>
<line x1="513.4" y1="493.5" x2="517.0" y2="493.5" stroke="#111" stroke-width="0.9"/><text class="l" x="521.0" y="497.8">0.2</text>
<line x1="513.4" y1="529.3" x2="517.0" y2="529.3" stroke="#111" stroke-width="0.9"/><text class="l" x="521.0" y="533.6">0.0</text>
<line x1="513.4" y1="565.1" x2="517.0" y2="565.1" stroke="#111" stroke-width="0.9"/><text class="l" x="521.0" y="569.4">−0.2</text>
<line x1="513.4" y1="600.9" x2="517.0" y2="600.9" stroke="#111" stroke-width="0.9"/><text class="l" x="521.0" y="605.2">−0.4</text>
<line x1="513.4" y1="636.8" x2="517.0" y2="636.8" stroke="#111" stroke-width="0.9"/><text class="l" x="521.0" y="641.1">−0.6</text>
</g>
</svg>
</body></html>
